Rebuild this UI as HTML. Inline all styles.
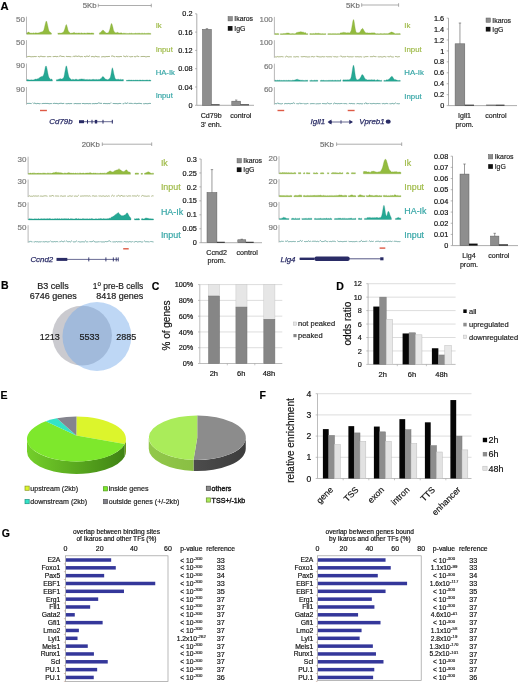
<!DOCTYPE html>
<html><head><meta charset="utf-8"><style>
html,body{margin:0;padding:0;background:#fff;}
body{width:520px;height:683px;overflow:hidden;}
svg{display:block;filter:blur(0.5px);font-family:"Liberation Sans", sans-serif;}
</style></head><body>
<svg width="520" height="683" viewBox="0 0 520 683" font-family="Liberation Sans, sans-serif">
<rect width="520" height="683" fill="#fff"/>
<text x="96.50" y="8.31" font-size="7.8" text-anchor="end" fill="#707070"  stroke="#707070" stroke-width="0.18">5Kb</text>
<line x1="98.30" y1="5.50" x2="151.30" y2="5.50" stroke="#8a8a8a" stroke-width="0.7" />
<line x1="98.30" y1="3.70" x2="98.30" y2="7.30" stroke="#8a8a8a" stroke-width="0.7" />
<line x1="151.30" y1="3.70" x2="151.30" y2="7.30" stroke="#8a8a8a" stroke-width="0.7" />
<line x1="26.50" y1="16.70" x2="26.50" y2="34.30" stroke="#9a9a9a" stroke-width="0.7" />
<text x="24.90" y="21.58" font-size="8" text-anchor="end" fill="#7a7a7a"  stroke="#7a7a7a" stroke-width="0.18">50</text>
<path d="M26.90,34.30 L26.90,32.90 L27.40,32.70 L27.90,32.13 L28.40,32.08 L28.90,32.05 L29.40,32.46 L29.90,32.92 L30.40,32.96 L30.90,33.23 L31.40,33.03 L31.90,33.22 L32.40,33.20 L32.90,33.04 L33.40,32.84 L33.90,33.19 L34.40,33.14 L34.90,32.94 L35.40,32.78 L35.90,32.96 L36.40,33.05 L36.90,32.76 L37.40,33.23 L37.90,32.74 L38.40,32.90 L38.90,32.84 L39.40,32.72 L39.90,32.48 L40.40,31.98 L40.90,32.17 L41.40,31.89 L41.90,31.75 L42.40,31.68 L42.90,31.24 L43.40,30.81 L43.90,29.63 L44.40,27.83 L44.90,25.46 L45.40,23.38 L45.90,21.70 L46.40,20.96 L46.90,21.99 L47.40,24.15 L47.90,26.39 L48.40,28.68 L48.90,30.55 L49.40,31.44 L49.90,32.09 L50.40,32.33 L50.90,32.71 L51.40,33.10 L51.40,34.30Z" fill="#93bb3f" stroke="#7ea336" stroke-width="0.3"/>
<path d="M57.90,34.30 L57.90,32.86 L58.40,33.29 L58.90,33.14 L59.40,32.97 L59.90,33.27 L60.40,33.11 L60.90,33.33 L61.40,33.01 L61.90,32.92 L62.40,32.79 L62.90,32.35 L63.40,32.19 L63.90,31.26 L64.40,30.12 L64.90,28.47 L65.40,26.70 L65.90,25.05 L66.40,24.55 L66.90,25.85 L67.40,27.60 L67.90,29.81 L68.40,30.97 L68.90,31.93 L69.40,32.29 L69.90,32.72 L70.40,33.20 L70.90,33.16 L71.40,33.02 L71.90,33.34 L72.40,32.96 L72.90,32.91 L73.40,32.72 L73.90,32.52 L74.40,32.39 L74.90,32.92 L75.40,33.06 L75.90,33.15 L76.40,32.91 L76.90,33.31 L77.40,33.13 L77.90,33.08 L78.40,32.91 L78.90,32.94 L79.40,32.92 L79.90,33.21 L80.40,33.14 L80.90,33.17 L81.40,32.91 L81.90,32.87 L82.40,33.27 L82.90,33.26 L83.40,33.23 L83.90,33.23 L84.40,33.11 L84.90,33.06 L85.40,33.22 L85.90,33.35 L86.40,33.14 L86.90,33.17 L87.40,33.07 L87.90,32.87 L88.40,33.00 L88.90,33.09 L89.40,33.04 L89.90,33.01 L90.40,33.32 L90.90,32.90 L91.40,32.96 L91.90,32.91 L92.40,32.95 L92.90,33.15 L93.40,33.15 L93.90,33.30 L93.90,34.30Z" fill="#93bb3f" stroke="#7ea336" stroke-width="0.3"/>
<path d="M99.40,34.30 L99.40,32.79 L99.90,32.90 L100.40,32.59 L100.90,32.04 L101.40,31.46 L101.90,30.74 L102.40,30.41 L102.90,30.25 L103.40,30.36 L103.90,30.86 L104.40,31.36 L104.90,32.13 L105.40,32.18 L105.90,32.63 L106.40,33.04 L106.90,33.07 L107.40,33.05 L107.90,32.85 L108.40,32.63 L108.90,31.68 L109.40,30.53 L109.90,29.04 L110.40,26.74 L110.90,24.72 L111.40,23.47 L111.90,23.83 L112.40,25.49 L112.90,27.32 L113.40,29.64 L113.90,31.21 L114.40,31.67 L114.90,32.39 L115.40,32.85 L115.90,32.66 L116.40,32.84 L116.90,32.50 L117.40,32.34 L117.90,32.49 L118.40,32.66 L118.90,32.96 L119.40,32.99 L119.90,33.16 L120.40,32.86 L120.90,32.98 L121.40,32.86 L121.90,33.09 L122.40,33.50 L122.90,33.24 L123.40,33.16 L123.90,33.22 L124.40,33.25 L124.90,33.24 L125.40,33.28 L125.90,33.50 L126.40,33.39 L126.90,33.47 L127.40,33.50 L127.90,33.50 L128.40,33.50 L128.90,33.50 L129.40,33.30 L129.90,33.17 L130.40,33.43 L130.90,33.18 L131.40,33.16 L131.90,33.17 L132.40,33.47 L132.90,33.50 L133.40,33.50 L133.90,33.50 L134.40,33.50 L134.90,33.34 L135.40,33.20 L135.90,33.23 L136.40,33.41 L136.90,33.32 L137.40,33.25 L137.90,33.50 L138.40,33.32 L138.90,33.20 L139.40,33.26 L139.90,33.27 L140.40,33.41 L140.90,33.50 L141.40,33.26 L141.90,33.48 L142.40,33.25 L142.90,33.16 L143.40,33.45 L143.90,33.45 L144.40,33.18 L144.90,33.29 L145.40,33.50 L145.90,33.50 L146.40,33.50 L146.90,33.20 L147.40,33.25 L147.90,33.50 L148.40,33.24 L148.90,33.16 L149.40,33.32 L149.90,33.47 L150.40,33.38 L150.90,33.50 L150.90,34.30Z" fill="#93bb3f" stroke="#7ea336" stroke-width="0.3"/>
<text x="155.70" y="28.27" font-size="7.7" fill="#9fbb48"  stroke="#9fbb48" stroke-width="0.18">Ik</text>
<line x1="26.50" y1="40.10" x2="26.50" y2="57.70" stroke="#9a9a9a" stroke-width="0.7" />
<text x="24.90" y="44.98" font-size="8" text-anchor="end" fill="#7a7a7a"  stroke="#7a7a7a" stroke-width="0.18">50</text>
<path d="M26.90,56.89 L27.90,56.58 L28.90,56.43 L29.90,56.46 L30.90,56.79 L31.90,56.75 L32.90,56.61 L33.90,56.69 L34.90,56.44 L35.90,56.67 L36.90,56.45 L37.90,56.44 L38.90,56.63 L39.90,56.89 L40.90,56.01 L41.90,56.50 L42.90,56.66 L43.90,56.62 L44.90,56.64 L45.90,56.51 L46.90,56.62 L47.90,56.76 L48.90,56.65 L49.90,56.52 L50.90,56.68 L51.90,56.65 L52.90,56.55 L53.90,56.63 L54.90,56.43 L55.90,56.46 L56.90,56.77 L57.90,56.43 L58.90,56.83 L59.90,55.88 L60.90,55.98 L61.90,56.57 L62.90,56.45 L63.90,56.54 L64.90,56.83 L65.90,56.42 L66.90,56.42 L67.90,56.66 L68.90,56.48 L69.90,56.68 L70.90,56.73 L71.90,56.74 L72.90,56.89 L73.90,55.88 L74.90,56.73 L75.90,55.84 L76.90,56.41 L77.90,56.41 L78.90,55.97 L79.90,56.51 L80.90,56.84 L81.90,56.44 L82.90,56.77 L83.90,56.44 L84.90,56.55 L85.90,56.87 L86.90,55.89 L87.90,56.43 L88.90,56.50 L89.90,55.67 L90.90,56.47 L91.90,56.73 L92.90,56.44 L93.90,56.84 L94.90,56.78 L95.90,56.02 L96.90,56.80 L97.90,56.75 L98.90,56.76 L99.90,56.81 L100.90,56.89 L101.90,56.89 L102.90,56.62 L103.90,56.66 L104.90,56.85 L105.90,56.68 L106.90,56.48 L107.90,56.65 L108.90,56.41 L109.90,56.48 L110.90,56.58 L111.90,55.93 L112.90,56.04 L113.90,56.53 L114.90,56.82 L115.90,56.48 L116.90,56.56 L117.90,56.78 L118.90,56.67 L119.90,56.68 L120.90,56.42 L121.90,56.63 L122.90,56.42 L123.90,55.92 L124.90,56.71 L125.90,56.65 L126.90,55.85 L127.90,56.77 L128.90,55.90 L129.90,56.89 L130.90,56.78 L131.90,56.64 L132.90,56.57 L133.90,56.46 L134.90,56.74 L135.90,56.83 L136.90,55.78 L137.90,56.48 L138.90,56.59 L139.90,56.49 L140.90,56.64 L141.90,56.48 L142.90,56.49 L143.90,56.45 L144.90,56.55 L145.90,56.88 L146.90,56.72 L147.90,56.48 L148.90,56.59 L149.90,56.56 L150.90,56.90" fill="none" stroke="#a0ab74" stroke-width="0.9" stroke-dasharray="10.0 1.1 8.3 1.3 4.5 1.3 6.0 0.7 6.1 1.3 5.6 1.3 11.8 1.1 7.1 1.1 9.5 1.4 8.9 1.2 4.6 0.7 6.0 1.3 6.4 1.2 4.1 0.7 6.2 1.3 9.5 1.3 6.3 1.1 7.7 1.1 4.9 1.5 5.6 1.6 11.5 0.6 7.7 1.4 11.7 1.0 6.1 0.8 11.6 0.8 8.7 0.7 8.2 1.6 5.1 1.4 8.1 1.5 9.6 0.8 11.2 1.1 4.2 0.6 7.9 1.1 6.4 0.7 6.8 0.9 10.7 0.6 10.0 1.4 5.0 1.5 9.7 1.5 6.3 1.0"/>
<text x="155.70" y="51.97" font-size="7.7" fill="#9fbb48"  stroke="#9fbb48" stroke-width="0.18">Input</text>
<line x1="26.50" y1="63.50" x2="26.50" y2="81.10" stroke="#9a9a9a" stroke-width="0.7" />
<text x="24.90" y="68.38" font-size="8" text-anchor="end" fill="#7a7a7a"  stroke="#7a7a7a" stroke-width="0.18">90</text>
<path d="M26.90,81.10 L26.90,79.85 L27.40,79.55 L27.90,79.76 L28.40,79.87 L28.90,79.84 L29.40,79.91 L29.90,80.03 L30.40,80.00 L30.90,79.63 L31.40,79.91 L31.90,79.58 L32.40,79.93 L32.90,79.92 L33.40,79.79 L33.90,79.96 L34.40,79.86 L34.90,79.07 L35.40,79.11 L35.90,79.14 L36.40,79.23 L36.90,79.01 L37.40,78.87 L37.90,78.79 L38.40,78.38 L38.90,78.39 L39.40,77.72 L39.90,77.52 L40.40,77.03 L40.90,76.74 L41.40,76.55 L41.90,76.63 L42.40,76.13 L42.90,76.22 L43.40,75.32 L43.90,74.02 L44.40,72.02 L44.90,69.21 L45.40,66.69 L45.90,65.97 L46.40,66.20 L46.90,68.17 L47.40,70.65 L47.90,73.41 L48.40,75.75 L48.90,77.32 L49.40,78.29 L49.90,78.56 L50.40,79.18 L50.90,79.42 L51.40,79.09 L51.90,79.05 L52.40,80.22 L52.40,81.10Z" fill="#25a894" stroke="#1d8f7e" stroke-width="0.3"/>
<path d="M56.40,81.10 L56.40,79.68 L56.90,79.65 L57.40,79.63 L57.90,79.38 L58.40,79.37 L58.90,79.16 L59.40,79.00 L59.90,78.70 L60.40,78.63 L60.90,78.84 L61.40,79.10 L61.90,78.98 L62.40,78.75 L62.90,78.54 L63.40,77.92 L63.90,76.89 L64.40,74.85 L64.90,71.78 L65.40,69.17 L65.90,66.60 L66.40,65.82 L66.90,66.98 L67.40,69.68 L67.90,72.40 L68.40,74.87 L68.90,76.63 L69.40,77.80 L69.90,78.26 L70.40,78.77 L70.90,79.08 L71.40,79.73 L71.90,79.73 L72.40,79.39 L72.90,79.30 L73.40,79.51 L73.90,79.46 L74.40,79.75 L74.90,79.55 L75.40,79.29 L75.90,79.34 L76.40,79.32 L76.90,79.26 L77.40,79.63 L77.90,79.70 L78.40,79.67 L78.90,79.49 L79.40,79.35 L79.90,79.13 L80.40,79.14 L80.90,79.07 L81.40,78.90 L81.90,78.94 L82.40,78.97 L82.90,79.33 L83.40,79.07 L83.90,79.44 L84.40,79.20 L84.90,79.42 L85.40,79.60 L85.90,79.69 L86.40,79.62 L86.90,79.43 L87.40,79.40 L87.90,79.69 L88.40,79.71 L88.90,79.49 L89.40,79.46 L89.90,79.56 L90.40,79.64 L90.90,79.45 L91.40,79.74 L91.90,79.60 L92.40,79.52 L92.90,79.27 L93.40,79.43 L93.90,79.31 L94.40,79.51 L94.90,79.63 L95.40,79.63 L95.90,79.27 L96.40,79.40 L96.90,79.60 L97.40,79.74 L97.90,79.50 L98.40,79.41 L98.90,79.52 L99.40,79.55 L99.90,79.23 L100.40,78.85 L100.90,78.76 L101.40,78.23 L101.90,77.38 L102.40,76.76 L102.90,76.41 L103.40,76.87 L103.90,77.15 L104.40,77.88 L104.90,78.62 L105.40,79.21 L105.90,79.08 L106.40,79.53 L106.90,79.32 L107.40,79.63 L107.90,79.64 L108.40,79.36 L108.90,79.31 L109.40,78.60 L109.90,78.16 L110.40,77.03 L110.90,74.86 L111.40,71.89 L111.90,69.08 L112.40,67.68 L112.90,69.12 L113.40,71.26 L113.90,73.99 L114.40,75.86 L114.90,77.82 L115.40,78.80 L115.90,79.33 L116.40,79.52 L116.90,79.29 L117.40,79.31 L117.90,79.38 L118.40,79.25 L118.90,79.28 L119.40,79.59 L119.90,79.66 L120.40,79.28 L120.90,79.38 L121.40,79.73 L121.90,79.42 L122.40,79.56 L122.90,79.56 L123.40,79.58 L123.40,81.10Z" fill="#25a894" stroke="#1d8f7e" stroke-width="0.3"/>
<path d="M126.40,81.10 L126.40,80.30 L126.90,80.30 L127.40,80.30 L127.90,80.27 L128.40,79.97 L128.90,80.30 L129.40,79.97 L129.90,80.30 L130.40,80.27 L130.90,80.04 L131.40,80.04 L131.90,80.23 L132.40,80.30 L132.90,80.21 L133.40,80.26 L133.90,79.99 L134.40,80.30 L134.90,80.27 L135.40,80.00 L135.90,80.30 L136.40,80.24 L136.90,80.04 L137.40,80.07 L137.90,80.30 L138.40,80.30 L138.90,80.30 L139.40,79.99 L139.90,80.30 L140.40,80.08 L140.90,80.00 L141.40,80.28 L141.90,80.30 L142.40,79.97 L142.90,80.14 L143.40,80.30 L143.90,80.09 L144.40,80.29 L144.90,80.30 L145.40,80.30 L145.90,80.07 L146.40,79.99 L146.90,80.13 L147.40,79.98 L147.90,80.30 L148.40,80.30 L148.90,80.21 L149.40,79.97 L149.90,79.97 L150.40,80.26 L150.90,80.30 L150.90,81.10Z" fill="#25a894" stroke="#1d8f7e" stroke-width="0.3"/>
<text x="155.70" y="74.57" font-size="7.7" fill="#36a6a6"  stroke="#36a6a6" stroke-width="0.18">HA-Ik</text>
<line x1="26.50" y1="87.00" x2="26.50" y2="104.60" stroke="#9a9a9a" stroke-width="0.7" />
<text x="24.90" y="91.88" font-size="8" text-anchor="end" fill="#7a7a7a"  stroke="#7a7a7a" stroke-width="0.18">90</text>
<path d="M26.90,103.59 L27.90,103.34 L28.90,103.40 L29.90,103.39 L30.90,103.50 L31.90,103.64 L32.90,102.61 L33.90,103.70 L34.90,102.88 L35.90,103.78 L36.90,103.64 L37.90,103.36 L38.90,103.67 L39.90,103.75 L40.90,103.45 L41.90,103.68 L42.90,103.49 L43.90,103.43 L44.90,103.47 L45.90,103.38 L46.90,103.52 L47.90,103.43 L48.90,103.68 L49.90,103.72 L50.90,103.51 L51.90,103.60 L52.90,103.55 L53.90,103.40 L54.90,103.30 L55.90,103.56 L56.90,103.38 L57.90,103.78 L58.90,103.74 L59.90,103.31 L60.90,103.33 L61.90,103.37 L62.90,103.67 L63.90,103.33 L64.90,103.50 L65.90,103.69 L66.90,103.73 L67.90,103.67 L68.90,103.47 L69.90,103.79 L70.90,103.46 L71.90,103.64 L72.90,103.40 L73.90,103.77 L74.90,103.60 L75.90,103.48 L76.90,103.72 L77.90,103.60 L78.90,103.65 L79.90,103.64 L80.90,103.62 L81.90,103.37 L82.90,103.62 L83.90,103.44 L84.90,103.80 L85.90,103.59 L86.90,103.60 L87.90,103.57 L88.90,103.79 L89.90,103.48 L90.90,103.76 L91.90,103.61 L92.90,103.73 L93.90,103.54 L94.90,103.75 L95.90,103.40 L96.90,103.70 L97.90,103.33 L98.90,102.76 L99.90,103.34 L100.90,103.35 L101.90,103.39 L102.90,103.41 L103.90,103.60 L104.90,103.39 L105.90,103.69 L106.90,103.54 L107.90,103.74 L108.90,103.44 L109.90,103.78 L110.90,102.62 L111.90,103.38 L112.90,103.50 L113.90,103.49 L114.90,103.59 L115.90,103.59 L116.90,103.58 L117.90,103.79 L118.90,103.56 L119.90,103.42 L120.90,103.57 L121.90,103.56 L122.90,103.74 L123.90,103.75 L124.90,102.74 L125.90,103.48 L126.90,103.43 L127.90,102.74 L128.90,103.55 L129.90,103.32 L130.90,103.37 L131.90,103.43 L132.90,103.70 L133.90,103.55 L134.90,103.34 L135.90,103.41 L136.90,103.77 L137.90,103.42 L138.90,103.35 L139.90,103.39 L140.90,103.55 L141.90,103.70 L142.90,103.55 L143.90,103.78 L144.90,103.72 L145.90,103.46 L146.90,103.72 L147.90,103.74 L148.90,103.48 L149.90,103.36 L150.90,103.51" fill="none" stroke="#64a29c" stroke-width="0.9" stroke-dasharray="4.8 1.6 9.0 1.0 10.4 0.9 11.9 1.2 6.9 1.4 7.5 0.8 9.9 0.6 10.6 0.9 9.1 1.6 8.7 1.3 6.5 0.6 4.3 0.7 8.9 1.0 8.1 1.5 5.1 0.8 9.2 0.6 4.0 1.0 4.9 1.0 5.8 1.2 8.7 0.8 9.0 1.1 5.1 1.5 5.9 0.7 4.8 1.2 11.0 1.4 7.2 0.9 4.1 1.2 8.5 1.0 9.2 1.0 11.5 1.3 6.0 1.5 4.4 1.1 7.2 0.8 4.5 1.4 4.1 1.2 11.5 0.7 5.6 1.2 8.1 1.2 10.5 0.8 6.5 0.9"/>
<text x="155.70" y="97.97" font-size="7.7" fill="#36a6a6"  stroke="#36a6a6" stroke-width="0.18">Input</text>
<line x1="40.00" y1="110.50" x2="46.90" y2="110.50" stroke="#de5a45" stroke-width="1.4" />
<text x="49.30" y="124.24" font-size="7.9" fill="#2a2c66" font-style="italic" stroke="#2a2c66" stroke-width="0.25">Cd79b</text>
<line x1="79.00" y1="121.70" x2="112.70" y2="121.70" stroke="#2a2c66" stroke-width="0.7" />
<rect x="79.00" y="120.20" width="5.00" height="3.00" fill="#2a2c66" />
<rect x="87.00" y="119.80" width="1.00" height="3.80" fill="#2a2c66" />
<rect x="91.50" y="119.80" width="1.00" height="3.80" fill="#2a2c66" />
<rect x="102.50" y="119.80" width="1.00" height="3.80" fill="#2a2c66" />
<rect x="111.80" y="119.80" width="1.00" height="3.80" fill="#2a2c66" />
<rect x="94.80" y="119.90" width="2.40" height="3.60" fill="#2a2c66" />
<text x="359.90" y="7.81" font-size="7.8" text-anchor="end" fill="#707070"  stroke="#707070" stroke-width="0.18">5Kb</text>
<line x1="361.70" y1="5.00" x2="398.60" y2="5.00" stroke="#8a8a8a" stroke-width="0.7" />
<line x1="361.70" y1="3.20" x2="361.70" y2="6.80" stroke="#8a8a8a" stroke-width="0.7" />
<line x1="398.60" y1="3.20" x2="398.60" y2="6.80" stroke="#8a8a8a" stroke-width="0.7" />
<line x1="274.40" y1="16.90" x2="274.40" y2="34.50" stroke="#9a9a9a" stroke-width="0.7" />
<text x="272.80" y="21.78" font-size="8" text-anchor="end" fill="#7a7a7a"  stroke="#7a7a7a" stroke-width="0.18">100</text>
<path d="M274.80,34.50 L274.80,33.70 L275.30,33.49 L275.80,33.54 L276.30,33.56 L276.80,33.70 L277.30,33.51 L277.80,33.55 L278.30,33.66 L278.80,33.55 L278.80,34.50Z" fill="#93bb3f" stroke="#7ea336" stroke-width="0.3"/>
<path d="M280.30,34.50 L280.30,33.67 L280.80,33.70 L281.30,33.70 L281.80,33.70 L282.30,33.70 L282.80,33.70 L283.30,33.55 L283.80,33.57 L284.30,33.51 L284.80,33.51 L285.30,33.57 L285.80,33.32 L286.30,33.23 L286.80,32.95 L287.30,32.90 L287.80,33.04 L288.30,33.03 L288.80,33.05 L289.30,33.48 L289.80,33.35 L290.30,33.70 L290.80,33.70 L291.30,33.70 L291.80,33.55 L292.30,33.47 L292.80,33.55 L293.30,33.70 L293.80,33.50 L294.30,33.70 L294.80,33.70 L295.30,33.49 L295.80,33.60 L296.30,32.68 L296.80,32.59 L297.30,32.35 L297.80,32.44 L298.30,32.17 L298.80,32.10 L299.30,31.91 L299.80,31.95 L300.30,31.70 L300.80,31.63 L301.30,31.76 L301.80,31.93 L302.30,31.90 L302.80,32.25 L303.30,32.04 L303.80,32.48 L304.30,32.64 L304.80,32.72 L305.30,32.50 L305.80,32.83 L306.30,33.70 L306.80,33.70 L307.30,33.70 L307.80,33.57 L307.80,34.50Z" fill="#93bb3f" stroke="#7ea336" stroke-width="0.3"/>
<path d="M309.80,34.50 L309.80,33.60 L310.30,33.57 L310.80,33.56 L311.30,33.70 L311.80,33.61 L312.30,33.70 L312.80,33.52 L313.30,33.52 L313.80,33.49 L314.30,33.70 L314.80,33.39 L315.30,33.29 L315.80,33.19 L316.30,33.44 L316.80,33.31 L317.30,33.36 L317.80,33.49 L318.30,33.25 L318.80,33.35 L319.30,33.50 L319.80,33.50 L320.30,33.60 L320.80,33.70 L321.30,33.70 L321.80,33.70 L322.30,33.55 L322.80,33.70 L323.30,33.70 L323.80,33.68 L324.30,33.70 L324.80,33.70 L325.30,33.70 L325.80,33.56 L325.80,34.50Z" fill="#93bb3f" stroke="#7ea336" stroke-width="0.3"/>
<path d="M327.80,34.50 L327.80,33.70 L328.30,33.70 L328.80,33.46 L329.30,33.65 L329.80,33.51 L330.30,33.60 L330.80,33.70 L331.30,33.68 L331.80,33.68 L332.30,33.54 L332.80,33.70 L333.30,33.57 L333.80,33.63 L334.30,33.70 L334.80,33.51 L335.30,33.70 L335.80,33.52 L336.30,33.70 L336.80,33.70 L337.30,33.70 L337.80,33.55 L338.30,33.46 L338.80,33.70 L339.30,33.65 L339.80,33.65 L340.30,32.78 L340.80,33.03 L341.30,32.86 L341.80,32.83 L342.30,32.54 L342.80,32.66 L343.30,32.28 L343.80,32.43 L344.30,32.48 L344.80,32.40 L345.30,32.59 L345.80,32.85 L346.30,32.73 L346.80,33.04 L347.30,32.78 L347.80,32.82 L348.30,32.78 L348.80,32.83 L349.30,32.90 L349.80,32.74 L350.30,32.37 L350.80,31.32 L351.30,30.03 L351.80,27.21 L352.30,24.43 L352.80,21.41 L353.30,19.66 L353.80,19.71 L354.30,22.39 L354.80,25.97 L355.30,28.94 L355.80,31.30 L356.30,32.28 L356.80,32.69 L357.30,32.74 L357.80,32.77 L358.30,32.77 L358.80,32.78 L359.30,32.56 L359.80,32.21 L360.30,31.27 L360.80,30.46 L361.30,29.48 L361.80,28.92 L362.30,28.44 L362.80,28.47 L363.30,29.19 L363.80,30.29 L364.30,31.09 L364.80,31.68 L365.30,32.46 L365.80,32.77 L366.30,32.88 L366.80,32.78 L367.30,32.75 L367.80,33.04 L368.30,33.04 L368.80,33.00 L369.30,32.97 L369.80,32.89 L370.30,33.04 L370.80,32.97 L371.30,33.02 L371.80,32.71 L372.30,32.81 L372.80,33.06 L373.30,32.72 L373.80,33.06 L374.30,32.95 L374.80,32.71 L375.30,33.53 L375.80,33.56 L376.30,33.68 L376.80,33.70 L377.30,33.59 L377.80,33.70 L378.30,33.70 L378.80,33.69 L379.30,33.70 L379.80,33.69 L380.30,33.53 L380.80,33.57 L381.30,33.65 L381.80,33.60 L382.30,33.66 L382.80,33.70 L383.30,33.61 L383.80,33.69 L384.30,33.55 L384.80,33.49 L385.30,33.68 L385.80,33.62 L386.30,33.55 L386.80,33.68 L387.30,33.70 L387.80,33.56 L388.30,33.47 L388.80,33.29 L389.30,33.07 L389.80,32.74 L390.30,32.52 L390.80,32.24 L391.30,32.02 L391.80,31.89 L392.30,32.07 L392.80,32.58 L393.30,32.74 L393.80,32.87 L394.30,33.17 L394.80,33.44 L395.30,33.70 L395.80,33.68 L396.30,33.67 L396.80,33.60 L397.30,33.69 L397.80,33.58 L398.30,33.48 L398.80,33.70 L399.30,33.59 L399.80,33.54 L400.30,33.69 L400.30,34.50Z" fill="#93bb3f" stroke="#7ea336" stroke-width="0.3"/>
<text x="404.30" y="28.31" font-size="7.8" fill="#9fbb48"  stroke="#9fbb48" stroke-width="0.18">Ik</text>
<line x1="274.40" y1="40.20" x2="274.40" y2="57.80" stroke="#9a9a9a" stroke-width="0.7" />
<text x="272.80" y="45.08" font-size="8" text-anchor="end" fill="#7a7a7a"  stroke="#7a7a7a" stroke-width="0.18">100</text>
<path d="M274.80,56.76 L275.80,56.98 L276.80,56.92 L277.80,56.53 L278.80,56.95 L279.80,56.73 L280.80,56.74 L281.80,56.59 L282.80,56.79 L283.80,56.89 L284.80,56.80 L285.80,56.94 L286.80,56.02 L287.80,56.86 L288.80,56.99 L289.80,56.79 L290.80,56.82 L291.80,56.89 L292.80,56.53 L293.80,56.89 L294.80,56.80 L295.80,56.94 L296.80,56.60 L297.80,56.77 L298.80,56.89 L299.80,56.82 L300.80,56.59 L301.80,56.77 L302.80,56.73 L303.80,56.58 L304.80,56.57 L305.80,56.81 L306.80,56.79 L307.80,57.00 L308.80,56.86 L309.80,56.85 L310.80,56.79 L311.80,56.67 L312.80,56.54 L313.80,56.97 L314.80,56.55 L315.80,56.93 L316.80,55.88 L317.80,56.99 L318.80,56.67 L319.80,56.95 L320.80,56.88 L321.80,56.83 L322.80,56.55 L323.80,56.92 L324.80,56.70 L325.80,56.67 L326.80,56.61 L327.80,56.90 L328.80,56.73 L329.80,56.78 L330.80,56.72 L331.80,56.88 L332.80,55.95 L333.80,56.77 L334.80,56.75 L335.80,56.73 L336.80,57.00 L337.80,56.77 L338.80,56.67 L339.80,56.81 L340.80,55.72 L341.80,56.68 L342.80,56.99 L343.80,56.66 L344.80,56.83 L345.80,56.74 L346.80,55.75 L347.80,56.64 L348.80,56.83 L349.80,56.82 L350.80,56.74 L351.80,56.89 L352.80,56.79 L353.80,56.59 L354.80,56.59 L355.80,56.75 L356.80,56.75 L357.80,56.67 L358.80,56.83 L359.80,56.85 L360.80,56.68 L361.80,56.98 L362.80,56.56 L363.80,56.98 L364.80,57.00 L365.80,56.54 L366.80,56.67 L367.80,56.55 L368.80,56.69 L369.80,56.65 L370.80,56.66 L371.80,56.67 L372.80,56.62 L373.80,56.11 L374.80,56.61 L375.80,56.67 L376.80,56.59 L377.80,56.72 L378.80,56.85 L379.80,56.84 L380.80,56.68 L381.80,56.97 L382.80,56.98 L383.80,56.59 L384.80,56.54 L385.80,56.99 L386.80,56.70 L387.80,56.51 L388.80,56.79 L389.80,56.68 L390.80,56.12 L391.80,57.00 L392.80,56.94 L393.80,56.96 L394.80,56.14 L395.80,56.64 L396.80,56.63 L397.80,56.97 L398.80,56.64 L399.80,56.64" fill="none" stroke="#a0ab74" stroke-width="0.9" stroke-dasharray="9.0 1.3 7.7 1.5 6.0 1.6 9.7 0.6 4.1 1.3 10.5 0.7 6.5 1.3 5.3 1.5 7.9 0.7 6.9 1.2 7.5 1.3 5.2 1.4 6.9 1.2 9.0 1.0 7.1 1.4 11.6 1.4 8.5 0.9 4.5 1.6 9.6 1.4 6.7 1.2 11.8 1.4 8.8 0.9 7.4 1.5 7.0 1.3 8.8 1.5 10.5 0.9 4.0 0.9 7.4 1.2 10.5 1.5 4.3 1.4 10.5 1.5 8.6 0.9 10.8 1.4 9.5 1.5 6.8 0.7 8.4 1.4 5.6 1.4 11.5 0.8 8.9 1.3 7.7 0.8"/>
<text x="404.30" y="52.21" font-size="7.8" fill="#9fbb48"  stroke="#9fbb48" stroke-width="0.18">Input</text>
<line x1="274.40" y1="63.70" x2="274.40" y2="81.30" stroke="#9a9a9a" stroke-width="0.7" />
<text x="272.80" y="68.58" font-size="8" text-anchor="end" fill="#7a7a7a"  stroke="#7a7a7a" stroke-width="0.18">60</text>
<path d="M274.80,81.30 L274.80,80.50 L275.30,80.30 L275.80,80.28 L276.30,80.42 L276.80,80.50 L277.30,80.28 L277.80,80.29 L278.30,80.50 L278.80,80.37 L279.30,80.24 L279.80,80.25 L280.30,80.39 L280.80,80.41 L281.30,80.36 L281.80,80.50 L282.30,80.50 L282.80,80.50 L283.30,80.32 L283.80,80.45 L284.30,80.37 L284.80,80.44 L285.30,80.39 L285.80,80.50 L286.30,80.50 L286.80,80.20 L287.30,80.45 L287.80,80.50 L288.30,80.35 L288.80,80.29 L289.30,80.50 L289.80,80.36 L290.30,80.46 L290.80,80.39 L291.30,80.50 L291.80,80.50 L292.30,80.20 L292.80,80.25 L293.30,80.36 L293.80,80.22 L294.30,80.23 L294.80,79.90 L295.30,79.92 L295.80,79.58 L296.30,79.52 L296.80,79.37 L297.30,79.17 L297.80,79.48 L298.30,79.71 L298.80,79.78 L299.30,79.92 L299.80,80.08 L300.30,80.22 L300.80,80.14 L301.30,80.12 L301.80,80.39 L302.30,80.22 L302.80,80.24 L303.30,80.50 L303.80,80.36 L304.30,80.44 L304.80,80.50 L305.30,80.22 L305.80,80.50 L306.30,80.37 L306.80,80.34 L307.30,80.22 L307.80,80.33 L307.80,81.30Z" fill="#25a894" stroke="#1d8f7e" stroke-width="0.3"/>
<path d="M309.80,81.30 L309.80,80.44 L310.30,80.42 L310.80,80.50 L311.30,80.21 L311.80,80.20 L312.30,80.50 L312.80,80.50 L313.30,80.50 L313.80,80.46 L314.30,80.24 L314.80,80.24 L315.30,80.27 L315.80,80.50 L316.30,80.29 L316.80,80.32 L317.30,80.34 L317.80,80.21 L317.80,81.30Z" fill="#25a894" stroke="#1d8f7e" stroke-width="0.3"/>
<path d="M320.30,81.30 L320.30,80.50 L320.80,80.50 L321.30,80.30 L321.80,80.22 L322.30,80.33 L322.80,80.48 L323.30,80.36 L323.80,80.30 L324.30,80.50 L324.80,80.47 L325.30,80.50 L325.80,80.50 L326.30,80.41 L326.80,80.50 L327.30,80.50 L327.80,80.50 L328.30,80.33 L328.80,80.50 L329.30,80.31 L329.80,80.50 L330.30,80.50 L330.80,80.23 L331.30,80.50 L331.80,80.23 L332.30,80.25 L332.80,80.24 L333.30,80.50 L333.80,80.42 L334.30,80.50 L334.80,80.23 L335.30,80.26 L335.80,80.35 L336.30,80.42 L336.80,80.46 L337.30,80.27 L337.80,80.41 L338.30,80.35 L338.80,80.50 L339.30,80.50 L339.80,80.50 L340.30,79.71 L340.80,79.78 L340.80,81.30Z" fill="#25a894" stroke="#1d8f7e" stroke-width="0.3"/>
<path d="M342.80,81.30 L342.80,79.94 L343.30,79.65 L343.80,79.89 L344.30,79.84 L344.80,79.94 L345.30,79.89 L345.80,79.66 L346.30,79.87 L346.80,79.93 L347.30,79.80 L347.80,79.87 L348.30,79.64 L348.80,79.94 L349.30,79.54 L349.80,79.76 L350.30,79.01 L350.80,78.17 L351.30,76.59 L351.80,73.74 L352.30,70.40 L352.80,67.17 L353.30,65.30 L353.80,65.57 L354.30,68.08 L354.80,71.95 L355.30,75.46 L355.80,78.09 L356.30,79.19 L356.80,79.42 L357.30,79.90 L357.80,79.63 L358.30,79.72 L358.80,79.25 L359.30,79.28 L359.80,78.39 L360.30,77.77 L360.80,76.88 L361.30,75.95 L361.80,74.84 L362.30,74.60 L362.80,74.89 L363.30,75.43 L363.80,76.17 L364.30,77.45 L364.80,78.19 L365.30,79.03 L365.80,79.45 L366.30,79.47 L366.80,79.62 L367.30,79.88 L367.80,79.96 L368.30,79.96 L368.80,79.76 L369.30,79.80 L369.80,79.89 L370.30,79.92 L370.80,79.76 L371.30,79.72 L371.80,79.68 L372.30,79.77 L372.80,79.92 L373.30,79.97 L373.80,79.71 L374.30,79.84 L374.80,79.71 L375.30,80.50 L375.80,80.16 L376.30,80.23 L376.80,79.90 L377.30,79.76 L377.80,79.83 L378.30,80.16 L378.80,79.93 L379.30,80.22 L379.80,80.18 L380.30,80.49 L380.80,80.50 L381.30,80.27 L381.80,80.45 L381.80,81.30Z" fill="#25a894" stroke="#1d8f7e" stroke-width="0.3"/>
<path d="M383.80,81.30 L383.80,80.50 L384.30,80.45 L384.80,80.36 L385.30,80.50 L385.80,80.39 L386.30,79.82 L386.80,79.79 L387.30,79.92 L387.80,79.64 L388.30,79.48 L388.80,79.24 L389.30,79.07 L389.80,78.34 L390.30,77.76 L390.80,76.92 L391.30,76.71 L391.80,76.26 L392.30,76.51 L392.80,77.29 L393.30,78.00 L393.80,78.66 L394.30,79.16 L394.80,79.68 L395.30,79.48 L395.80,79.86 L396.30,79.91 L396.80,79.95 L397.30,80.50 L397.80,80.27 L398.30,80.50 L398.80,80.50 L399.30,80.32 L399.80,80.50 L400.30,80.50 L400.30,81.30Z" fill="#25a894" stroke="#1d8f7e" stroke-width="0.3"/>
<text x="404.30" y="75.41" font-size="7.8" fill="#36a6a6"  stroke="#36a6a6" stroke-width="0.18">HA-Ik</text>
<line x1="274.40" y1="87.10" x2="274.40" y2="104.70" stroke="#9a9a9a" stroke-width="0.7" />
<text x="272.80" y="91.98" font-size="8" text-anchor="end" fill="#7a7a7a"  stroke="#7a7a7a" stroke-width="0.18">60</text>
<path d="M274.80,103.60 L275.80,103.64 L276.80,103.85 L277.80,102.74 L278.80,103.84 L279.80,103.65 L280.80,103.84 L281.80,103.83 L282.80,103.47 L283.80,103.61 L284.80,103.82 L285.80,103.43 L286.80,103.69 L287.80,103.64 L288.80,103.43 L289.80,103.73 L290.80,103.73 L291.80,103.41 L292.80,103.44 L293.80,102.68 L294.80,103.64 L295.80,103.43 L296.80,103.69 L297.80,103.72 L298.80,103.87 L299.80,102.85 L300.80,103.83 L301.80,103.51 L302.80,103.58 L303.80,103.46 L304.80,103.88 L305.80,103.77 L306.80,103.76 L307.80,103.44 L308.80,103.77 L309.80,103.68 L310.80,103.76 L311.80,103.58 L312.80,103.60 L313.80,103.64 L314.80,103.67 L315.80,103.83 L316.80,103.83 L317.80,103.70 L318.80,103.78 L319.80,103.63 L320.80,103.60 L321.80,103.57 L322.80,103.54 L323.80,103.63 L324.80,103.67 L325.80,103.78 L326.80,103.64 L327.80,102.81 L328.80,103.72 L329.80,103.78 L330.80,103.65 L331.80,103.41 L332.80,103.51 L333.80,103.87 L334.80,102.88 L335.80,103.71 L336.80,103.53 L337.80,103.79 L338.80,103.53 L339.80,103.73 L340.80,103.56 L341.80,103.48 L342.80,103.64 L343.80,103.53 L344.80,103.66 L345.80,103.55 L346.80,103.84 L347.80,103.90 L348.80,103.61 L349.80,103.42 L350.80,103.69 L351.80,103.46 L352.80,103.71 L353.80,103.67 L354.80,103.75 L355.80,103.62 L356.80,103.74 L357.80,103.48 L358.80,103.68 L359.80,103.75 L360.80,103.61 L361.80,103.86 L362.80,103.74 L363.80,103.48 L364.80,103.80 L365.80,102.64 L366.80,103.88 L367.80,103.65 L368.80,103.51 L369.80,103.40 L370.80,103.64 L371.80,103.71 L372.80,103.60 L373.80,103.43 L374.80,103.64 L375.80,103.71 L376.80,103.62 L377.80,103.46 L378.80,103.66 L379.80,103.59 L380.80,103.73 L381.80,103.49 L382.80,103.74 L383.80,103.49 L384.80,103.84 L385.80,103.56 L386.80,103.40 L387.80,103.69 L388.80,103.76 L389.80,103.65 L390.80,103.81 L391.80,103.60 L392.80,103.40 L393.80,103.88 L394.80,103.51 L395.80,102.75 L396.80,103.75 L397.80,103.61 L398.80,103.80 L399.80,103.62" fill="none" stroke="#64a29c" stroke-width="0.9" stroke-dasharray="9.2 1.1 12.0 1.2 7.3 0.7 5.3 1.4 4.9 0.7 5.4 1.1 10.6 1.2 10.5 0.7 4.1 1.4 6.6 1.3 6.8 0.8 6.1 0.7 11.2 1.2 6.8 1.0 7.1 0.7 11.1 1.2 11.7 1.0 9.0 0.8 4.4 1.5 10.8 0.9 11.2 1.4 6.4 1.2 11.7 1.1 11.6 0.8 7.1 1.3 5.8 0.9 11.0 1.1 10.3 0.8 5.4 1.0 5.5 1.6 6.3 1.2 4.9 1.1 7.1 1.0 4.5 0.7 10.6 1.0 6.0 0.8 6.3 0.8 4.3 1.3 6.7 0.8 9.6 0.7"/>
<text x="404.30" y="98.71" font-size="7.8" fill="#36a6a6"  stroke="#36a6a6" stroke-width="0.18">Input</text>
<line x1="277.50" y1="110.50" x2="284.20" y2="110.50" stroke="#de5a45" stroke-width="1.4" />
<line x1="347.70" y1="110.50" x2="354.60" y2="110.50" stroke="#de5a45" stroke-width="1.4" />
<text x="310.60" y="124.24" font-size="7.9" fill="#2a2c66" font-style="italic" stroke="#2a2c66" stroke-width="0.25">Igll1</text>
<line x1="329.00" y1="122.00" x2="352.00" y2="122.00" stroke="#2a2c66" stroke-width="0.7" />
<path d="M327.6,122 L331.5,119.6 L331.5,124.4 Z" fill="#2a2c66"/>
<circle cx="330.2" cy="122" r="1.6" fill="#2a2c66"/>
<path d="M353,122 L349.3,119.7 L349.3,124.3 Z" fill="#2a2c66"/>
<rect x="340.60" y="120.20" width="0.80" height="3.60" fill="#2a2c66" />
<text x="359.20" y="124.24" font-size="7.9" fill="#2a2c66" font-style="italic" stroke="#2a2c66" stroke-width="0.25">Vpreb1</text>
<ellipse cx="388.2" cy="121.7" rx="2.5" ry="2.1" fill="#2a2c66"/>
<text x="99.90" y="147.01" font-size="7.8" text-anchor="end" fill="#707070"  stroke="#707070" stroke-width="0.18">20Kb</text>
<line x1="102.30" y1="144.20" x2="151.70" y2="144.20" stroke="#8a8a8a" stroke-width="0.7" />
<line x1="102.30" y1="142.40" x2="102.30" y2="146.00" stroke="#8a8a8a" stroke-width="0.7" />
<line x1="151.70" y1="142.40" x2="151.70" y2="146.00" stroke="#8a8a8a" stroke-width="0.7" />
<line x1="28.10" y1="156.70" x2="28.10" y2="174.30" stroke="#9a9a9a" stroke-width="0.7" />
<text x="26.50" y="161.58" font-size="8" text-anchor="end" fill="#7a7a7a"  stroke="#7a7a7a" stroke-width="0.18">30</text>
<path d="M28.50,174.30 L28.50,173.34 L29.00,173.00 L29.50,173.42 L30.00,173.23 L30.50,173.00 L31.00,173.02 L31.50,173.40 L32.00,173.29 L32.50,173.07 L33.00,173.27 L33.50,172.92 L34.00,173.38 L34.50,172.93 L35.00,173.20 L35.50,173.36 L36.00,173.23 L36.50,173.42 L37.00,173.08 L37.50,173.34 L38.00,172.96 L38.50,173.15 L39.00,173.28 L39.50,173.35 L40.00,173.14 L40.50,173.37 L41.00,172.98 L41.50,173.43 L42.00,173.19 L42.50,173.17 L43.00,173.34 L43.50,173.04 L44.00,173.27 L44.50,173.11 L45.00,173.16 L45.50,173.31 L46.00,173.27 L46.50,173.45 L47.00,173.39 L47.50,172.99 L48.00,173.31 L48.50,173.10 L49.00,173.43 L49.50,173.16 L50.00,173.28 L50.50,173.20 L51.00,173.32 L51.50,173.46 L52.00,173.01 L52.50,173.02 L53.00,173.03 L53.50,172.62 L54.00,172.82 L54.50,172.69 L55.00,172.32 L55.50,172.34 L56.00,172.21 L56.50,172.15 L57.00,172.52 L57.50,172.50 L58.00,172.72 L58.50,172.39 L59.00,172.47 L59.50,172.72 L60.00,172.74 L60.50,172.65 L61.00,172.69 L61.50,173.01 L62.00,172.69 L62.50,173.29 L63.00,173.12 L63.50,173.39 L64.00,173.43 L64.50,172.95 L65.00,173.06 L65.50,173.07 L66.00,173.39 L66.50,173.28 L67.00,173.09 L67.50,172.94 L68.00,172.75 L68.50,172.57 L69.00,172.91 L69.50,172.87 L70.00,172.80 L70.50,173.19 L71.00,172.91 L71.50,173.16 L72.00,173.07 L72.50,173.35 L73.00,173.24 L73.50,173.09 L74.00,173.29 L74.50,173.50 L75.00,173.00 L75.50,173.03 L76.00,173.33 L76.50,173.47 L77.00,172.99 L77.50,173.14 L78.00,173.47 L78.50,173.35 L79.00,173.43 L79.50,173.03 L80.00,173.37 L80.50,172.95 L81.00,173.05 L81.50,173.45 L82.00,173.08 L82.50,173.26 L83.00,173.05 L83.50,173.00 L84.00,173.33 L84.50,173.45 L85.00,172.93 L85.50,173.25 L86.00,172.94 L86.50,173.09 L87.00,173.06 L87.50,172.95 L88.00,173.01 L88.50,173.05 L89.00,173.22 L89.50,172.76 L90.00,172.84 L90.50,172.87 L91.00,172.69 L91.50,173.24 L92.00,172.93 L92.50,173.42 L93.00,173.08 L93.50,173.02 L94.00,173.34 L94.50,173.17 L95.00,172.92 L95.50,173.12 L96.00,173.17 L96.50,173.35 L97.00,173.46 L97.50,173.29 L98.00,173.25 L98.50,173.38 L99.00,173.31 L99.50,173.42 L100.00,173.08 L100.50,173.10 L101.00,173.36 L101.50,173.35 L102.00,173.19 L102.50,173.23 L103.00,172.94 L103.50,173.29 L104.00,173.32 L104.50,172.97 L105.00,173.41 L105.50,173.16 L106.00,173.30 L106.50,173.01 L107.00,173.17 L107.50,172.04 L108.00,172.28 L108.50,171.75 L109.00,171.53 L109.50,171.33 L110.00,170.86 L110.50,170.88 L111.00,171.60 L111.50,171.66 L112.00,171.74 L112.50,171.92 L113.00,171.92 L113.50,171.63 L114.00,171.52 L114.50,170.82 L115.00,170.51 L115.50,170.58 L116.00,170.29 L116.50,170.03 L117.00,169.91 L117.50,169.82 L118.00,169.66 L118.50,169.46 L119.00,168.60 L119.50,169.13 L120.00,169.90 L120.50,169.88 L121.00,170.08 L121.50,170.67 L122.00,171.28 L122.50,171.35 L123.00,171.46 L123.50,171.63 L124.00,171.37 L124.50,171.40 L125.00,170.55 L125.50,170.40 L126.00,170.09 L126.50,169.73 L127.00,170.33 L127.50,170.99 L128.00,171.40 L128.50,171.84 L129.00,172.26 L129.50,172.04 L130.00,172.00 L130.50,173.32 L130.50,174.30Z" fill="#93bb3f" stroke="#7ea336" stroke-width="0.3"/>
<path d="M135.00,174.30 L135.00,173.39 L135.50,173.12 L136.00,172.99 L136.50,172.94 L137.00,173.40 L137.50,173.03 L138.00,173.00 L138.50,173.05 L138.50,174.30Z" fill="#93bb3f" stroke="#7ea336" stroke-width="0.3"/>
<path d="M141.00,174.30 L141.00,173.30 L141.50,173.39 L142.00,173.00 L142.50,173.31 L142.50,174.30Z" fill="#93bb3f" stroke="#7ea336" stroke-width="0.3"/>
<path d="M144.50,174.30 L144.50,173.28 L145.00,173.14 L145.50,173.04 L146.00,172.53 L146.50,172.63 L147.00,172.48 L147.50,171.89 L148.00,171.68 L148.50,171.85 L149.00,172.19 L149.50,172.33 L150.00,172.56 L150.50,173.06 L151.00,173.20 L151.50,173.41 L152.00,173.32 L152.50,173.15 L153.00,173.45 L153.50,173.09 L153.50,174.30Z" fill="#93bb3f" stroke="#7ea336" stroke-width="0.3"/>
<text x="160.90" y="166.20" font-size="8.9" fill="#9fbb48"  stroke="#9fbb48" stroke-width="0.18">Ik</text>
<line x1="28.10" y1="179.50" x2="28.10" y2="197.10" stroke="#9a9a9a" stroke-width="0.7" />
<text x="26.50" y="184.38" font-size="8" text-anchor="end" fill="#7a7a7a"  stroke="#7a7a7a" stroke-width="0.18">30</text>
<path d="M28.50,196.22 L29.50,195.82 L30.50,196.28 L31.50,196.20 L32.50,196.30 L33.50,195.87 L34.50,196.09 L35.50,195.97 L36.50,196.09 L37.50,196.08 L38.50,195.89 L39.50,196.22 L40.50,196.08 L41.50,196.13 L42.50,196.26 L43.50,196.07 L44.50,195.85 L45.50,195.81 L46.50,195.99 L47.50,196.27 L48.50,196.00 L49.50,196.01 L50.50,196.06 L51.50,196.15 L52.50,195.06 L53.50,196.21 L54.50,196.08 L55.50,195.97 L56.50,196.01 L57.50,196.04 L58.50,196.10 L59.50,196.21 L60.50,196.03 L61.50,195.87 L62.50,196.25 L63.50,196.17 L64.50,196.02 L65.50,196.01 L66.50,196.04 L67.50,196.26 L68.50,196.26 L69.50,195.87 L70.50,195.94 L71.50,196.24 L72.50,195.94 L73.50,195.88 L74.50,196.21 L75.50,196.02 L76.50,196.23 L77.50,196.27 L78.50,195.31 L79.50,196.00 L80.50,196.15 L81.50,196.09 L82.50,195.99 L83.50,196.02 L84.50,195.86 L85.50,195.93 L86.50,195.92 L87.50,195.89 L88.50,196.11 L89.50,195.83 L90.50,196.28 L91.50,196.25 L92.50,195.90 L93.50,195.84 L94.50,196.17 L95.50,196.08 L96.50,196.01 L97.50,196.29 L98.50,195.90 L99.50,196.02 L100.50,195.96 L101.50,196.23 L102.50,196.03 L103.50,195.90 L104.50,196.29 L105.50,196.22 L106.50,195.86 L107.50,196.28 L108.50,195.89 L109.50,196.10 L110.50,196.22 L111.50,196.10 L112.50,195.19 L113.50,196.14 L114.50,195.85 L115.50,196.28 L116.50,196.12 L117.50,196.01 L118.50,195.32 L119.50,196.01 L120.50,196.29 L121.50,195.01 L122.50,196.23 L123.50,196.16 L124.50,196.05 L125.50,196.02 L126.50,195.82 L127.50,196.28 L128.50,195.91 L129.50,195.91 L130.50,195.98 L131.50,196.16 L132.50,195.86 L133.50,195.96 L134.50,195.92 L135.50,196.05 L136.50,196.12 L137.50,195.30 L138.50,196.13 L139.50,195.81 L140.50,196.12 L141.50,196.18 L142.50,195.43 L143.50,195.86 L144.50,196.08 L145.50,196.15 L146.50,196.27 L147.50,196.15 L148.50,196.02 L149.50,196.13 L150.50,196.01 L151.50,196.21 L152.50,195.81 L153.50,195.91" fill="none" stroke="#a0ab74" stroke-width="0.9" stroke-dasharray="10.9 0.7 7.9 1.5 6.2 0.9 4.2 0.8 6.1 1.3 5.7 1.0 5.6 1.2 10.9 1.2 5.6 1.3 11.7 1.2 4.6 1.4 11.0 0.9 5.1 0.8 8.3 1.5 9.1 1.5 5.7 0.9 10.0 1.2 7.2 1.3 6.7 0.7 7.3 0.6 9.0 0.9 8.0 1.2 6.1 1.1 4.1 1.5 8.5 1.6 4.4 1.2 9.8 0.9 4.7 0.8 5.1 1.4 4.7 1.4 7.4 1.1 8.7 1.2 9.3 1.2 6.6 1.3 6.1 1.3 10.1 1.4 6.5 1.4 11.8 1.1 6.2 1.1 11.5 0.7"/>
<text x="160.90" y="190.40" font-size="8.9" fill="#9fbb48"  stroke="#9fbb48" stroke-width="0.18">Input</text>
<line x1="28.10" y1="202.30" x2="28.10" y2="219.90" stroke="#9a9a9a" stroke-width="0.7" />
<text x="26.50" y="207.18" font-size="8" text-anchor="end" fill="#7a7a7a"  stroke="#7a7a7a" stroke-width="0.18">50</text>
<path d="M28.50,219.90 L28.50,219.09 L29.00,218.81 L29.50,218.71 L30.00,218.64 L30.50,218.88 L31.00,218.51 L31.50,218.96 L32.00,218.65 L32.50,219.05 L33.00,219.08 L33.50,219.02 L34.00,219.06 L34.50,218.80 L35.00,218.77 L35.50,218.99 L36.00,218.54 L36.50,218.88 L37.00,219.01 L37.50,218.99 L38.00,218.66 L38.50,218.55 L39.00,219.00 L39.50,219.08 L40.00,218.63 L40.50,218.95 L41.00,218.51 L41.50,218.80 L42.00,218.72 L42.50,218.89 L43.00,218.62 L43.50,218.82 L44.00,218.91 L44.50,218.56 L45.00,219.04 L45.50,218.66 L46.00,219.06 L46.50,218.71 L47.00,218.86 L47.50,218.58 L48.00,219.06 L48.50,218.76 L49.00,218.85 L49.50,218.55 L50.00,218.53 L50.50,218.72 L51.00,218.97 L51.50,218.95 L52.00,218.94 L52.50,218.84 L53.00,218.96 L53.50,218.98 L54.00,218.64 L54.50,218.71 L55.00,218.92 L55.50,218.50 L56.00,218.97 L56.50,218.76 L57.00,219.01 L57.50,218.58 L58.00,218.58 L58.50,218.94 L59.00,218.65 L59.50,218.61 L60.00,218.93 L60.50,218.90 L61.00,218.81 L61.50,218.57 L62.00,219.00 L62.50,218.69 L63.00,218.74 L63.50,218.83 L64.00,218.75 L64.50,218.57 L65.00,218.97 L65.50,218.57 L66.00,218.88 L66.50,218.63 L67.00,218.58 L67.50,218.99 L68.00,218.58 L68.50,218.50 L69.00,218.92 L69.50,219.09 L70.00,219.03 L70.50,218.52 L71.00,219.09 L71.50,218.55 L72.00,219.01 L72.50,218.66 L73.00,219.04 L73.50,219.00 L74.00,218.69 L74.50,219.05 L75.00,218.90 L75.50,218.55 L76.00,218.67 L76.50,218.57 L77.00,218.51 L77.50,219.08 L78.00,218.96 L78.50,218.62 L79.00,218.69 L79.50,219.08 L80.00,218.80 L80.50,218.96 L81.00,218.84 L81.50,219.04 L82.00,219.09 L82.50,218.51 L83.00,218.91 L83.50,218.57 L84.00,219.03 L84.50,218.81 L85.00,219.02 L85.50,218.84 L86.00,218.99 L86.50,218.69 L87.00,219.01 L87.50,218.66 L88.00,218.80 L88.50,219.03 L89.00,218.89 L89.50,218.80 L90.00,218.55 L90.50,218.89 L91.00,218.97 L91.50,218.52 L92.00,218.57 L92.50,218.66 L93.00,218.94 L93.50,218.99 L94.00,218.94 L94.50,219.06 L95.00,219.07 L95.50,218.79 L96.00,218.86 L96.50,218.77 L97.00,218.88 L97.50,219.09 L98.00,218.69 L98.50,218.71 L99.00,218.77 L99.50,218.77 L100.00,218.69 L100.50,218.51 L101.00,218.58 L101.50,218.67 L102.00,218.86 L102.50,218.91 L103.00,218.85 L103.50,218.52 L104.00,218.87 L104.50,218.87 L105.00,218.85 L105.50,219.01 L106.00,218.50 L106.50,219.10 L107.00,218.74 L107.50,218.54 L108.00,218.95 L108.50,218.73 L109.00,218.07 L109.50,218.16 L110.00,218.18 L110.50,218.15 L111.00,217.47 L111.50,217.22 L112.00,216.85 L112.50,217.05 L113.00,216.33 L113.50,216.22 L114.00,215.69 L114.50,215.40 L115.00,215.18 L115.50,214.43 L116.00,214.64 L116.50,213.82 L117.00,213.38 L117.50,213.21 L118.00,212.78 L118.50,212.55 L119.00,213.62 L119.50,213.98 L120.00,214.51 L120.50,215.10 L121.00,215.21 L121.50,215.68 L122.00,215.83 L122.50,215.77 L123.00,215.42 L123.50,215.66 L124.00,215.25 L124.50,215.04 L125.00,214.94 L125.50,214.38 L126.00,214.20 L126.50,213.21 L127.00,212.86 L127.50,213.00 L128.00,213.98 L128.50,214.85 L129.00,215.81 L129.50,216.64 L130.00,216.90 L130.50,217.78 L131.00,218.79 L131.00,219.90Z" fill="#25a894" stroke="#1d8f7e" stroke-width="0.3"/>
<path d="M134.50,219.90 L134.50,218.78 L135.00,218.61 L135.50,218.96 L136.00,219.00 L136.50,218.61 L137.00,218.82 L137.50,218.72 L138.00,218.60 L138.50,218.56 L139.00,218.58 L139.50,219.07 L139.50,219.90Z" fill="#25a894" stroke="#1d8f7e" stroke-width="0.3"/>
<path d="M141.50,219.90 L141.50,218.87 L142.00,218.60 L142.50,218.61 L143.00,219.03 L143.50,219.01 L144.00,218.83 L144.50,218.78 L145.00,218.48 L145.50,218.05 L146.00,218.06 L146.50,217.93 L147.00,218.32 L147.50,218.30 L148.00,218.10 L148.50,218.43 L149.00,218.72 L149.50,218.81 L150.00,218.62 L150.50,218.64 L151.00,219.01 L151.50,218.69 L152.00,218.88 L152.50,218.79 L153.00,218.96 L153.50,218.88 L153.50,219.90Z" fill="#25a894" stroke="#1d8f7e" stroke-width="0.3"/>
<text x="160.90" y="214.60" font-size="8.9" fill="#36a6a6"  stroke="#36a6a6" stroke-width="0.18">HA-Ik</text>
<line x1="28.10" y1="225.20" x2="28.10" y2="242.80" stroke="#9a9a9a" stroke-width="0.7" />
<text x="26.50" y="230.08" font-size="8" text-anchor="end" fill="#7a7a7a"  stroke="#7a7a7a" stroke-width="0.18">50</text>
<path d="M28.50,241.83 L29.50,241.99 L30.50,240.91 L31.50,241.91 L32.50,241.86 L33.50,241.88 L34.50,241.95 L35.50,241.57 L36.50,241.79 L37.50,241.69 L38.50,241.98 L39.50,241.82 L40.50,241.85 L41.50,241.68 L42.50,241.82 L43.50,241.71 L44.50,241.90 L45.50,241.64 L46.50,241.67 L47.50,241.96 L48.50,241.81 L49.50,241.75 L50.50,240.82 L51.50,241.70 L52.50,241.77 L53.50,241.79 L54.50,241.55 L55.50,241.75 L56.50,241.59 L57.50,241.63 L58.50,241.98 L59.50,241.72 L60.50,241.62 L61.50,241.09 L62.50,241.59 L63.50,241.96 L64.50,240.92 L65.50,241.66 L66.50,240.96 L67.50,241.65 L68.50,241.71 L69.50,241.59 L70.50,241.93 L71.50,240.94 L72.50,241.51 L73.50,241.87 L74.50,241.87 L75.50,241.72 L76.50,240.99 L77.50,241.85 L78.50,241.60 L79.50,241.87 L80.50,241.97 L81.50,241.81 L82.50,241.76 L83.50,241.82 L84.50,241.90 L85.50,240.92 L86.50,241.84 L87.50,241.80 L88.50,241.84 L89.50,241.60 L90.50,241.64 L91.50,241.70 L92.50,241.53 L93.50,240.76 L94.50,241.78 L95.50,241.98 L96.50,241.96 L97.50,241.91 L98.50,241.72 L99.50,241.75 L100.50,241.66 L101.50,241.89 L102.50,241.93 L103.50,241.90 L104.50,241.95 L105.50,241.52 L106.50,241.67 L107.50,241.55 L108.50,241.12 L109.50,240.85 L110.50,241.58 L111.50,241.88 L112.50,241.84 L113.50,241.92 L114.50,241.84 L115.50,241.92 L116.50,241.51 L117.50,241.98 L118.50,241.68 L119.50,241.73 L120.50,241.77 L121.50,241.79 L122.50,241.94 L123.50,241.94 L124.50,241.50 L125.50,241.74 L126.50,241.83 L127.50,241.75 L128.50,241.95 L129.50,241.57 L130.50,241.73 L131.50,241.93 L132.50,241.55 L133.50,241.89 L134.50,241.98 L135.50,241.52 L136.50,241.53 L137.50,241.97 L138.50,241.78 L139.50,241.63 L140.50,241.61 L141.50,241.97 L142.50,241.95 L143.50,241.61 L144.50,240.97 L145.50,241.74 L146.50,241.68 L147.50,241.71 L148.50,241.81 L149.50,241.92 L150.50,241.53 L151.50,241.58 L152.50,241.76 L153.50,241.95" fill="none" stroke="#64a29c" stroke-width="0.9" stroke-dasharray="4.9 1.1 8.3 0.7 7.7 0.8 8.3 1.1 6.9 0.8 7.2 0.8 5.0 0.8 11.0 1.1 11.1 0.6 11.5 1.1 10.3 1.2 9.5 0.8 10.0 0.8 6.1 0.6 7.1 1.1 6.3 1.5 4.7 1.2 5.9 1.2 10.3 1.3 4.5 0.8 8.8 1.6 4.3 1.2 9.5 1.4 6.7 1.4 7.7 1.5 4.1 1.5 7.3 1.0 4.7 0.8 9.9 1.3 5.2 0.9 5.1 0.8 5.8 0.9 11.8 1.6 10.3 1.1 8.0 1.4 11.3 1.4 9.1 0.8 9.0 1.4 10.3 0.7 9.7 0.9"/>
<text x="160.90" y="238.40" font-size="8.9" fill="#36a6a6"  stroke="#36a6a6" stroke-width="0.18">Input</text>
<line x1="123.20" y1="248.80" x2="128.70" y2="248.80" stroke="#de5a45" stroke-width="1.4" />
<text x="30.40" y="262.04" font-size="7.9" fill="#2a2c66" font-style="italic" stroke="#2a2c66" stroke-width="0.25">Ccnd2</text>
<line x1="67.00" y1="259.40" x2="118.30" y2="259.40" stroke="#2a2c66" stroke-width="0.7" />
<rect x="56.50" y="257.90" width="10.80" height="3.00" fill="#2a2c66" />
<rect x="88.35" y="257.40" width="0.90" height="4.00" fill="#2a2c66" />
<rect x="105.45" y="257.40" width="0.90" height="4.00" fill="#2a2c66" />
<rect x="112.85" y="257.40" width="0.90" height="4.00" fill="#2a2c66" />
<rect x="115.75" y="257.40" width="0.90" height="4.00" fill="#2a2c66" />
<rect x="117.75" y="257.40" width="0.90" height="4.00" fill="#2a2c66" />
<text x="333.90" y="147.01" font-size="7.8" text-anchor="end" fill="#707070"  stroke="#707070" stroke-width="0.18">5Kb</text>
<line x1="336.60" y1="144.20" x2="401.70" y2="144.20" stroke="#8a8a8a" stroke-width="0.7" />
<line x1="336.60" y1="142.40" x2="336.60" y2="146.00" stroke="#8a8a8a" stroke-width="0.7" />
<line x1="401.70" y1="142.40" x2="401.70" y2="146.00" stroke="#8a8a8a" stroke-width="0.7" />
<line x1="279.00" y1="156.20" x2="279.00" y2="173.80" stroke="#9a9a9a" stroke-width="0.7" />
<text x="277.40" y="161.08" font-size="8" text-anchor="end" fill="#7a7a7a"  stroke="#7a7a7a" stroke-width="0.18">20</text>
<path d="M279.40,173.80 L279.40,173.00 L279.90,172.52 L280.40,172.70 L280.90,172.65 L281.40,173.00 L281.90,172.60 L282.40,172.54 L282.90,172.56 L283.40,172.65 L283.90,172.60 L284.40,172.62 L284.90,172.75 L285.40,172.84 L285.90,172.60 L286.40,172.63 L286.90,172.58 L287.40,172.92 L287.90,172.52 L288.40,172.78 L288.90,172.53 L289.40,173.00 L289.90,172.52 L290.40,172.63 L290.90,172.95 L291.40,172.60 L291.90,172.96 L292.40,172.98 L292.90,172.83 L293.40,172.96 L293.90,172.80 L294.40,172.56 L294.90,172.69 L295.40,172.67 L295.90,172.86 L295.90,173.80Z" fill="#93bb3f" stroke="#7ea336" stroke-width="0.3"/>
<path d="M298.40,173.80 L298.40,172.63 L298.90,172.62 L299.40,172.69 L299.90,172.53 L300.40,172.60 L300.90,172.86 L300.90,173.80Z" fill="#93bb3f" stroke="#7ea336" stroke-width="0.3"/>
<path d="M303.40,173.80 L303.40,173.00 L303.90,172.71 L304.40,172.60 L304.90,172.90 L304.90,173.80Z" fill="#93bb3f" stroke="#7ea336" stroke-width="0.3"/>
<path d="M306.40,173.80 L306.40,172.74 L306.90,172.60 L307.40,172.62 L307.90,173.00 L308.40,172.81 L308.90,173.00 L309.40,173.00 L309.90,172.61 L309.90,173.80Z" fill="#93bb3f" stroke="#7ea336" stroke-width="0.3"/>
<path d="M313.40,173.80 L313.40,172.85 L313.90,172.74 L314.40,172.83 L314.90,172.90 L315.40,172.97 L315.90,172.89 L316.40,172.59 L316.90,172.73 L317.40,172.92 L317.90,173.00 L317.90,173.80Z" fill="#93bb3f" stroke="#7ea336" stroke-width="0.3"/>
<path d="M320.40,173.80 L320.40,172.94 L320.90,172.68 L321.40,172.83 L321.90,172.70 L322.40,172.62 L322.90,173.00 L323.40,172.69 L323.90,173.00 L323.90,173.80Z" fill="#93bb3f" stroke="#7ea336" stroke-width="0.3"/>
<path d="M327.40,173.80 L327.40,172.61 L327.90,172.99 L328.40,172.94 L328.90,172.53 L328.90,173.80Z" fill="#93bb3f" stroke="#7ea336" stroke-width="0.3"/>
<path d="M331.40,173.80 L331.40,172.88 L331.90,172.97 L332.40,172.57 L332.90,172.73 L333.40,172.56 L333.90,172.86 L334.40,172.80 L334.90,172.53 L335.40,172.80 L335.90,172.51 L336.40,172.99 L336.90,172.60 L337.40,173.00 L337.90,172.78 L338.40,173.00 L338.90,172.99 L339.40,172.53 L339.90,172.83 L340.40,172.61 L340.90,172.95 L341.40,172.89 L341.90,173.00 L342.40,172.77 L342.90,172.58 L342.90,173.80Z" fill="#93bb3f" stroke="#7ea336" stroke-width="0.3"/>
<path d="M346.40,173.80 L346.40,172.79 L346.90,172.87 L347.40,172.54 L347.90,172.56 L348.40,172.70 L348.90,173.00 L348.90,173.80Z" fill="#93bb3f" stroke="#7ea336" stroke-width="0.3"/>
<path d="M351.40,173.80 L351.40,172.73 L351.90,172.83 L352.40,172.53 L352.90,172.88 L353.40,172.70 L353.90,172.72 L354.40,172.87 L354.90,172.79 L355.40,172.69 L355.40,173.80Z" fill="#93bb3f" stroke="#7ea336" stroke-width="0.3"/>
<path d="M363.40,173.80 L363.40,171.52 L363.90,171.63 L364.40,171.56 L364.90,171.04 L365.40,171.69 L365.90,171.37 L366.40,171.60 L366.90,171.81 L367.40,172.01 L367.90,171.93 L368.40,171.87 L368.90,171.96 L369.40,171.95 L369.90,172.38 L370.40,172.18 L370.90,172.13 L371.40,171.45 L371.90,171.28 L372.40,171.52 L372.90,171.03 L373.40,170.90 L373.90,171.44 L374.40,171.45 L374.90,171.45 L375.40,171.71 L375.90,172.11 L376.40,171.94 L376.90,172.22 L377.40,172.07 L377.90,172.13 L378.40,171.77 L378.90,171.93 L379.40,171.74 L379.90,171.64 L380.40,171.51 L380.90,170.65 L381.40,170.03 L381.90,168.96 L382.40,167.78 L382.90,166.12 L383.40,163.98 L383.90,161.96 L384.40,160.38 L384.90,159.57 L385.40,159.32 L385.90,159.42 L386.40,160.16 L386.90,162.02 L387.40,163.38 L387.90,165.51 L388.40,167.12 L388.90,168.73 L389.40,169.76 L389.90,170.59 L390.40,170.86 L390.90,171.26 L391.40,171.98 L391.90,172.05 L392.40,171.70 L392.90,172.09 L393.40,171.94 L393.90,171.78 L394.40,171.87 L394.90,171.67 L395.40,171.65 L395.90,171.77 L396.40,171.53 L396.90,172.05 L397.40,172.18 L397.90,171.84 L398.40,172.13 L398.90,171.90 L399.40,172.02 L399.90,171.93 L400.40,172.21 L400.90,172.31 L400.90,173.80Z" fill="#93bb3f" stroke="#7ea336" stroke-width="0.3"/>
<text x="404.30" y="166.40" font-size="8.9" fill="#9fbb48"  stroke="#9fbb48" stroke-width="0.18">Ik</text>
<line x1="279.00" y1="179.10" x2="279.00" y2="196.70" stroke="#9a9a9a" stroke-width="0.7" />
<text x="277.40" y="183.98" font-size="8" text-anchor="end" fill="#7a7a7a"  stroke="#7a7a7a" stroke-width="0.18">20</text>
<path d="M279.40,196.70 L279.40,195.45 L279.90,195.62 L280.40,195.56 L280.90,195.50 L281.40,195.45 L281.90,195.73 L282.40,195.68 L282.90,195.35 L283.40,195.58 L283.90,195.73 L284.40,195.52 L284.90,195.74 L285.40,195.44 L285.90,195.88 L286.40,195.40 L286.90,195.56 L287.40,195.69 L287.90,195.34 L288.40,195.74 L288.90,195.75 L289.40,195.86 L289.90,195.57 L290.40,195.45 L290.90,195.49 L291.40,195.65 L291.90,195.42 L291.90,196.70Z" fill="#93bb3f" stroke="#7ea336" stroke-width="0.3"/>
<path d="M293.90,196.70 L293.90,195.83 L294.40,195.72 L294.90,195.51 L295.40,195.32 L295.90,195.52 L296.40,195.48 L296.90,195.44 L297.40,195.66 L297.90,195.34 L298.40,195.33 L298.90,195.38 L299.40,195.13 L299.90,194.66 L300.40,195.07 L300.90,195.39 L301.40,195.18 L301.90,195.56 L301.90,196.70Z" fill="#93bb3f" stroke="#7ea336" stroke-width="0.3"/>
<path d="M303.40,196.70 L303.40,195.59 L303.90,195.50 L304.40,195.36 L304.90,195.82 L305.40,195.70 L305.90,195.86 L306.40,195.65 L306.90,195.60 L307.40,195.39 L307.90,195.50 L308.40,195.55 L308.90,195.66 L309.40,195.56 L309.90,195.74 L310.40,195.39 L310.90,195.43 L311.40,195.40 L311.90,195.81 L312.40,195.50 L312.90,195.45 L313.40,195.60 L313.90,195.36 L314.40,195.36 L314.90,195.45 L315.40,195.41 L315.90,195.51 L316.40,195.37 L316.90,195.82 L317.40,195.43 L317.90,195.35 L318.40,195.32 L318.90,195.44 L319.40,195.47 L319.90,195.06 L320.40,194.98 L320.90,195.40 L321.40,195.53 L321.90,195.61 L322.40,195.77 L322.90,195.48 L323.40,195.32 L323.90,195.42 L324.40,195.68 L324.90,195.48 L325.40,195.86 L325.90,195.40 L326.40,195.70 L326.90,195.90 L327.40,195.52 L327.90,195.82 L328.40,195.73 L328.90,195.86 L329.40,195.63 L329.90,195.57 L330.40,195.42 L330.90,195.88 L331.40,195.40 L331.90,195.83 L332.40,195.77 L332.90,195.52 L333.40,195.70 L333.90,195.70 L334.40,195.56 L334.90,195.77 L335.40,195.42 L335.90,195.77 L336.40,195.40 L336.90,195.41 L337.40,195.50 L337.90,195.68 L338.40,195.10 L338.90,195.41 L339.40,194.98 L339.90,194.88 L340.40,195.18 L340.90,194.99 L341.40,195.08 L341.90,195.30 L342.40,195.53 L342.90,195.58 L343.40,195.55 L343.90,195.76 L344.40,195.38 L344.90,195.30 L345.40,195.42 L345.90,195.32 L346.40,195.70 L346.90,195.31 L346.90,196.70Z" fill="#93bb3f" stroke="#7ea336" stroke-width="0.3"/>
<path d="M348.40,196.70 L348.40,195.86 L348.90,195.61 L349.40,195.82 L349.90,195.63 L350.40,195.35 L350.90,195.12 L351.40,195.03 L351.90,194.85 L352.40,195.09 L352.90,195.21 L353.40,195.51 L353.90,195.75 L354.40,195.46 L354.90,195.59 L355.40,195.64 L355.90,195.78 L355.90,196.70Z" fill="#93bb3f" stroke="#7ea336" stroke-width="0.3"/>
<path d="M357.90,196.70 L357.90,195.48 L358.40,195.66 L358.90,195.42 L359.40,195.03 L359.90,194.73 L360.40,194.70 L360.90,195.05 L361.40,195.13 L361.90,195.32 L362.40,195.47 L362.90,195.47 L363.40,195.86 L363.90,195.78 L364.40,195.89 L364.90,195.38 L364.90,196.70Z" fill="#93bb3f" stroke="#7ea336" stroke-width="0.3"/>
<path d="M366.40,196.70 L366.40,195.47 L366.90,195.52 L367.40,195.74 L367.90,195.69 L368.40,195.68 L368.90,195.20 L369.40,194.77 L369.90,194.96 L370.40,195.25 L370.90,195.39 L371.40,195.49 L371.90,195.34 L372.40,195.42 L372.90,195.63 L373.40,195.84 L373.90,195.84 L374.40,195.81 L374.90,195.43 L375.40,195.62 L375.90,195.31 L376.40,195.35 L376.90,195.42 L377.40,195.61 L377.90,195.41 L378.40,195.82 L378.90,195.83 L379.40,195.56 L379.90,195.60 L380.40,195.77 L380.90,195.75 L381.40,195.89 L381.90,195.35 L381.90,196.70Z" fill="#93bb3f" stroke="#7ea336" stroke-width="0.3"/>
<path d="M383.40,196.70 L383.40,195.47 L383.90,195.33 L384.40,195.31 L384.90,195.64 L385.40,195.46 L385.90,195.67 L386.40,195.41 L386.90,195.40 L387.40,195.82 L387.90,195.89 L388.40,195.77 L388.90,195.55 L389.40,195.67 L389.90,195.89 L390.40,195.40 L390.90,195.43 L391.40,195.62 L391.90,195.87 L392.40,195.37 L392.90,195.58 L393.40,195.73 L393.90,195.39 L394.40,194.99 L394.90,194.61 L395.40,194.99 L395.90,195.11 L396.40,195.58 L396.90,195.73 L397.40,195.36 L397.90,195.67 L398.40,195.84 L398.90,195.55 L399.40,195.82 L399.90,195.78 L400.40,195.63 L400.90,195.55 L400.90,196.70Z" fill="#93bb3f" stroke="#7ea336" stroke-width="0.3"/>
<text x="404.30" y="190.30" font-size="8.9" fill="#9fbb48"  stroke="#9fbb48" stroke-width="0.18">Input</text>
<line x1="279.00" y1="201.90" x2="279.00" y2="219.50" stroke="#9a9a9a" stroke-width="0.7" />
<text x="277.40" y="206.78" font-size="8" text-anchor="end" fill="#7a7a7a"  stroke="#7a7a7a" stroke-width="0.18">90</text>
<path d="M279.40,219.50 L279.40,218.42 L279.90,218.38 L280.40,218.54 L280.90,218.70 L281.40,218.25 L281.90,218.47 L282.40,218.02 L282.90,217.85 L283.40,217.47 L283.90,217.22 L284.40,217.64 L284.90,217.61 L285.40,217.80 L285.90,218.14 L286.40,218.53 L286.90,218.23 L287.40,218.44 L287.90,218.70 L288.40,218.66 L288.90,218.21 L288.90,219.50Z" fill="#25a894" stroke="#1d8f7e" stroke-width="0.3"/>
<path d="M291.40,219.50 L291.40,218.66 L291.90,218.56 L292.40,218.33 L292.90,218.31 L293.40,218.42 L293.90,218.36 L294.40,218.70 L294.90,218.70 L295.40,218.21 L295.90,218.32 L296.40,218.70 L296.90,218.70 L297.40,218.66 L297.90,218.24 L298.40,218.67 L298.90,218.40 L299.40,218.24 L299.90,218.42 L299.90,219.50Z" fill="#25a894" stroke="#1d8f7e" stroke-width="0.3"/>
<path d="M301.90,219.50 L301.90,218.25 L302.40,218.64 L302.90,218.70 L303.40,218.70 L303.90,218.35 L304.40,218.70 L304.90,218.22 L305.40,218.37 L305.90,218.69 L306.40,218.32 L306.90,218.70 L307.40,218.49 L307.90,218.70 L308.40,218.33 L308.90,218.27 L309.40,218.25 L309.90,218.70 L310.40,218.29 L310.90,218.47 L311.40,218.31 L311.90,218.50 L311.90,219.50Z" fill="#25a894" stroke="#1d8f7e" stroke-width="0.3"/>
<path d="M314.40,219.50 L314.40,218.43 L314.90,218.44 L315.40,218.32 L315.90,218.70 L316.40,218.70 L316.90,218.47 L317.40,218.63 L317.90,218.56 L318.40,218.70 L318.90,218.35 L319.40,218.70 L319.90,218.30 L320.40,218.31 L320.90,218.53 L321.40,218.70 L321.90,218.41 L322.40,218.68 L322.90,218.54 L323.40,218.70 L323.90,218.21 L324.40,218.47 L324.90,218.59 L325.40,218.70 L325.90,218.36 L326.40,218.29 L326.90,218.29 L327.40,218.70 L327.90,218.58 L328.40,218.62 L328.90,218.34 L329.40,218.70 L329.90,218.44 L330.40,218.21 L330.90,218.34 L331.40,218.70 L331.90,218.70 L331.90,219.50Z" fill="#25a894" stroke="#1d8f7e" stroke-width="0.3"/>
<path d="M334.40,219.50 L334.40,218.70 L334.90,218.38 L335.40,218.44 L335.90,218.49 L336.40,218.53 L336.90,218.56 L337.40,218.43 L337.90,218.41 L338.40,218.25 L338.90,218.36 L339.40,218.32 L339.90,218.25 L340.40,218.30 L340.90,218.37 L341.40,218.70 L341.90,218.39 L342.40,218.29 L342.90,218.54 L343.40,218.27 L343.90,218.69 L344.40,218.23 L344.90,218.53 L345.40,218.38 L345.90,218.65 L346.40,218.62 L346.90,218.59 L347.40,218.61 L347.90,218.70 L348.40,218.53 L348.90,218.21 L349.40,218.41 L349.90,218.24 L350.40,218.34 L350.90,218.30 L351.40,218.20 L351.90,218.35 L352.40,218.64 L352.90,218.65 L353.40,218.55 L353.90,218.70 L354.40,218.66 L354.90,218.27 L355.40,218.25 L355.90,218.60 L355.90,219.50Z" fill="#25a894" stroke="#1d8f7e" stroke-width="0.3"/>
<path d="M358.40,219.50 L358.40,218.34 L358.90,218.34 L359.40,218.27 L359.90,218.32 L360.40,218.48 L360.90,218.70 L361.40,218.30 L361.90,218.61 L361.90,219.50Z" fill="#25a894" stroke="#1d8f7e" stroke-width="0.3"/>
<path d="M364.40,219.50 L364.40,218.42 L364.90,218.58 L365.40,218.48 L365.90,218.22 L366.40,218.70 L366.90,217.68 L367.40,217.61 L367.90,217.68 L368.40,217.44 L368.90,217.76 L369.40,217.45 L369.90,217.59 L370.40,217.42 L370.90,217.95 L371.40,217.87 L371.90,217.83 L372.40,217.46 L372.90,217.99 L373.40,217.84 L373.90,217.57 L374.40,217.41 L374.90,217.89 L375.40,217.74 L375.90,217.59 L376.40,217.59 L376.90,217.55 L377.40,217.55 L377.90,217.85 L378.40,217.85 L378.90,217.98 L379.40,217.58 L379.90,217.84 L380.40,217.70 L380.90,216.97 L381.40,216.40 L381.90,214.91 L382.40,212.41 L382.90,209.35 L383.40,206.46 L383.90,205.26 L384.40,206.22 L384.90,209.16 L385.40,212.65 L385.90,214.99 L386.40,216.12 L386.90,215.63 L387.40,213.85 L387.90,211.86 L388.40,211.29 L388.90,212.00 L389.40,212.91 L389.90,214.75 L390.40,216.11 L390.90,216.90 L391.40,218.16 L391.40,219.50Z" fill="#25a894" stroke="#1d8f7e" stroke-width="0.3"/>
<path d="M395.40,219.50 L395.40,218.39 L395.90,218.51 L396.40,218.17 L396.90,218.35 L397.40,217.64 L397.90,217.78 L398.40,217.35 L398.90,218.05 L399.40,217.79 L399.90,218.36 L400.40,218.17 L400.90,218.32 L400.90,219.50Z" fill="#25a894" stroke="#1d8f7e" stroke-width="0.3"/>
<text x="404.30" y="214.40" font-size="8.9" fill="#36a6a6"  stroke="#36a6a6" stroke-width="0.18">HA-Ik</text>
<line x1="279.00" y1="224.90" x2="279.00" y2="242.50" stroke="#9a9a9a" stroke-width="0.7" />
<text x="277.40" y="229.78" font-size="8" text-anchor="end" fill="#7a7a7a"  stroke="#7a7a7a" stroke-width="0.18">90</text>
<path d="M279.40,241.36 L280.40,241.70 L281.40,241.25 L282.40,241.37 L283.40,241.37 L284.40,241.63 L285.40,241.21 L286.40,241.37 L287.40,240.79 L288.40,241.69 L289.40,241.63 L290.40,241.52 L291.40,241.63 L292.40,241.57 L293.40,241.44 L294.40,241.58 L295.40,241.56 L296.40,241.32 L297.40,241.60 L298.40,241.51 L299.40,241.38 L300.40,240.47 L301.40,241.37 L302.40,240.78 L303.40,241.48 L304.40,241.47 L305.40,241.65 L306.40,241.46 L307.40,241.58 L308.40,240.84 L309.40,241.52 L310.40,241.23 L311.40,241.66 L312.40,241.33 L313.40,241.26 L314.40,241.27 L315.40,241.23 L316.40,241.58 L317.40,241.27 L318.40,241.66 L319.40,241.24 L320.40,240.53 L321.40,241.47 L322.40,241.60 L323.40,241.52 L324.40,241.21 L325.40,240.81 L326.40,241.37 L327.40,241.69 L328.40,241.33 L329.40,241.58 L330.40,241.40 L331.40,241.63 L332.40,241.23 L333.40,241.27 L334.40,241.25 L335.40,241.59 L336.40,241.25 L337.40,240.79 L338.40,241.48 L339.40,241.60 L340.40,241.41 L341.40,241.50 L342.40,241.69 L343.40,241.58 L344.40,241.44 L345.40,241.45 L346.40,241.39 L347.40,241.28 L348.40,241.20 L349.40,241.59 L350.40,241.54 L351.40,241.53 L352.40,241.69 L353.40,241.62 L354.40,241.70 L355.40,241.57 L356.40,241.42 L357.40,241.63 L358.40,241.64 L359.40,241.63 L360.40,241.44 L361.40,240.46 L362.40,241.58 L363.40,241.41 L364.40,241.50 L365.40,241.37 L366.40,241.22 L367.40,241.23 L368.40,241.67 L369.40,240.85 L370.40,241.56 L371.40,241.22 L372.40,241.49 L373.40,241.28 L374.40,241.37 L375.40,241.64 L376.40,241.37 L377.40,241.30 L378.40,241.22 L379.40,241.66 L380.40,241.41 L381.40,241.35 L382.40,241.58 L383.40,241.44 L384.40,241.66 L385.40,241.39 L386.40,241.36 L387.40,241.70 L388.40,241.36 L389.40,241.38 L390.40,241.22 L391.40,241.58 L392.40,241.22 L393.40,241.50 L394.40,241.25 L395.40,241.33 L396.40,241.37 L397.40,241.64 L398.40,241.59 L399.40,241.68 L400.40,241.50" fill="none" stroke="#64a29c" stroke-width="0.9" stroke-dasharray="4.6 1.2 11.5 1.2 6.8 1.3 7.5 0.8 7.9 0.6 9.4 0.8 7.0 1.6 10.1 1.4 9.1 1.2 9.6 1.6 5.6 1.4 6.4 0.9 10.6 1.2 10.8 1.5 8.7 0.8 4.1 1.1 9.8 0.9 4.6 0.6 5.4 1.3 4.0 0.8 6.1 1.3 11.9 0.6 4.9 1.5 11.8 0.7 6.7 1.1 6.6 1.0 7.8 0.9 4.4 0.7 5.3 0.7 9.0 1.3 6.1 1.4 9.8 0.9 7.9 0.8 11.4 1.2 4.4 0.8 9.5 1.0 9.7 0.8 10.4 1.4 4.8 1.2 5.5 1.3"/>
<text x="404.30" y="238.40" font-size="8.9" fill="#36a6a6"  stroke="#36a6a6" stroke-width="0.18">Input</text>
<line x1="379.60" y1="248.10" x2="385.30" y2="248.10" stroke="#de5a45" stroke-width="1.4" />
<text x="280.60" y="261.84" font-size="7.9" fill="#2a2c66" font-style="italic" stroke="#2a2c66" stroke-width="0.25">Lig4</text>
<line x1="299.70" y1="258.80" x2="380.50" y2="258.80" stroke="#2a2c66" stroke-width="0.8" />
<rect x="299.70" y="257.60" width="14.70" height="2.40" fill="#2a2c66" />
<rect x="314.40" y="256.50" width="35.30" height="4.60" fill="#2a2c66" rx="2"/>
<rect x="380.20" y="257.30" width="3.30" height="3.00" fill="#2a2c66" />
<line x1="196.80" y1="13.80" x2="196.80" y2="105.30" stroke="#8a8a8a" stroke-width="0.7" />
<line x1="196.80" y1="105.30" x2="254.00" y2="105.30" stroke="#8a8a8a" stroke-width="0.7" />
<line x1="195.00" y1="105.30" x2="196.80" y2="105.30" stroke="#8a8a8a" stroke-width="0.6" />
<text x="192.50" y="107.93" font-size="7.3" text-anchor="end" fill="#111"  stroke="#111" stroke-width="0.18">0</text>
<line x1="195.00" y1="87.00" x2="196.80" y2="87.00" stroke="#8a8a8a" stroke-width="0.6" />
<text x="192.50" y="89.63" font-size="7.3" text-anchor="end" fill="#111"  stroke="#111" stroke-width="0.18">0.04</text>
<line x1="195.00" y1="68.70" x2="196.80" y2="68.70" stroke="#8a8a8a" stroke-width="0.6" />
<text x="192.50" y="71.33" font-size="7.3" text-anchor="end" fill="#111"  stroke="#111" stroke-width="0.18">0.08</text>
<line x1="195.00" y1="50.40" x2="196.80" y2="50.40" stroke="#8a8a8a" stroke-width="0.6" />
<text x="192.50" y="53.03" font-size="7.3" text-anchor="end" fill="#111"  stroke="#111" stroke-width="0.18">0.12</text>
<line x1="195.00" y1="32.10" x2="196.80" y2="32.10" stroke="#8a8a8a" stroke-width="0.6" />
<text x="192.50" y="34.73" font-size="7.3" text-anchor="end" fill="#111"  stroke="#111" stroke-width="0.18">0.16</text>
<line x1="195.00" y1="13.80" x2="196.80" y2="13.80" stroke="#8a8a8a" stroke-width="0.6" />
<text x="192.50" y="16.43" font-size="7.3" text-anchor="end" fill="#111"  stroke="#111" stroke-width="0.18">0.2</text>
<rect x="202.50" y="29.36" width="8.90" height="75.94" fill="#8e8e8e" stroke="#5c5c5c" stroke-width="0.5" />
<line x1="206.95" y1="28.67" x2="206.95" y2="29.36" stroke="#555" stroke-width="0.6" />
<line x1="205.75" y1="28.67" x2="208.15" y2="28.67" stroke="#555" stroke-width="0.6" />
<rect x="211.40" y="104.40" width="8.20" height="0.90" fill="#111" />
<rect x="231.80" y="101.18" width="8.80" height="4.12" fill="#8e8e8e" stroke="#5c5c5c" stroke-width="0.5" />
<line x1="236.20" y1="100.04" x2="236.20" y2="101.18" stroke="#555" stroke-width="0.6" />
<line x1="235.00" y1="100.04" x2="237.40" y2="100.04" stroke="#555" stroke-width="0.6" />
<rect x="240.60" y="104.40" width="8.40" height="0.90" fill="#111" />
<rect x="228.05" y="16.60" width="4.30" height="4.30" fill="#8e8e8e" stroke="#5c5c5c" stroke-width="0.5" />
<rect x="227.80" y="26.05" width="4.70" height="4.70" fill="#111" />
<text x="234.30" y="21.18" font-size="6.9" fill="#222"  stroke="#222" stroke-width="0.18">Ikaros</text>
<text x="234.30" y="30.88" font-size="6.9" fill="#222"  stroke="#222" stroke-width="0.18">IgG</text>
<text x="211.20" y="118.26" font-size="7.1" text-anchor="middle" fill="#222"  stroke="#222" stroke-width="0.18">Cd79b</text>
<text x="211.20" y="127.16" font-size="7.1" text-anchor="middle" fill="#222"  stroke="#222" stroke-width="0.18">3' enh.</text>
<text x="240.80" y="118.26" font-size="7.1" text-anchor="middle" fill="#222"  stroke="#222" stroke-width="0.18">control</text>
<line x1="448.50" y1="18.10" x2="448.50" y2="105.60" stroke="#8a8a8a" stroke-width="0.7" />
<line x1="448.50" y1="105.60" x2="517.00" y2="105.60" stroke="#8a8a8a" stroke-width="0.7" />
<line x1="446.70" y1="105.60" x2="448.50" y2="105.60" stroke="#8a8a8a" stroke-width="0.6" />
<text x="444.20" y="108.23" font-size="7.3" text-anchor="end" fill="#111"  stroke="#111" stroke-width="0.18">0</text>
<line x1="446.70" y1="94.66" x2="448.50" y2="94.66" stroke="#8a8a8a" stroke-width="0.6" />
<text x="444.20" y="97.29" font-size="7.3" text-anchor="end" fill="#111"  stroke="#111" stroke-width="0.18">0.2</text>
<line x1="446.70" y1="83.72" x2="448.50" y2="83.72" stroke="#8a8a8a" stroke-width="0.6" />
<text x="444.20" y="86.35" font-size="7.3" text-anchor="end" fill="#111"  stroke="#111" stroke-width="0.18">0.4</text>
<line x1="446.70" y1="72.79" x2="448.50" y2="72.79" stroke="#8a8a8a" stroke-width="0.6" />
<text x="444.20" y="75.42" font-size="7.3" text-anchor="end" fill="#111"  stroke="#111" stroke-width="0.18">0.6</text>
<line x1="446.70" y1="61.85" x2="448.50" y2="61.85" stroke="#8a8a8a" stroke-width="0.6" />
<text x="444.20" y="64.48" font-size="7.3" text-anchor="end" fill="#111"  stroke="#111" stroke-width="0.18">0.8</text>
<line x1="446.70" y1="50.91" x2="448.50" y2="50.91" stroke="#8a8a8a" stroke-width="0.6" />
<text x="444.20" y="53.54" font-size="7.3" text-anchor="end" fill="#111"  stroke="#111" stroke-width="0.18">1</text>
<line x1="446.70" y1="39.98" x2="448.50" y2="39.98" stroke="#8a8a8a" stroke-width="0.6" />
<text x="444.20" y="42.60" font-size="7.3" text-anchor="end" fill="#111"  stroke="#111" stroke-width="0.18">1.2</text>
<line x1="446.70" y1="29.04" x2="448.50" y2="29.04" stroke="#8a8a8a" stroke-width="0.6" />
<text x="444.20" y="31.67" font-size="7.3" text-anchor="end" fill="#111"  stroke="#111" stroke-width="0.18">1.4</text>
<line x1="446.70" y1="18.10" x2="448.50" y2="18.10" stroke="#8a8a8a" stroke-width="0.6" />
<text x="444.20" y="20.73" font-size="7.3" text-anchor="end" fill="#111"  stroke="#111" stroke-width="0.18">1.6</text>
<rect x="455.10" y="43.80" width="9.70" height="61.80" fill="#8e8e8e" stroke="#5c5c5c" stroke-width="0.5" />
<line x1="459.95" y1="23.02" x2="459.95" y2="43.80" stroke="#555" stroke-width="0.6" />
<line x1="458.75" y1="23.02" x2="461.15" y2="23.02" stroke="#555" stroke-width="0.6" />
<rect x="464.80" y="104.70" width="9.20" height="0.90" fill="#111" />
<rect x="486.70" y="104.94" width="8.90" height="0.66" fill="#8e8e8e" stroke="#5c5c5c" stroke-width="0.5" />
<rect x="495.60" y="104.70" width="8.90" height="0.90" fill="#111" />
<rect x="486.05" y="18.00" width="4.30" height="4.30" fill="#8e8e8e" stroke="#5c5c5c" stroke-width="0.5" />
<rect x="485.80" y="26.85" width="4.70" height="4.70" fill="#111" />
<text x="492.30" y="22.58" font-size="6.9" fill="#222"  stroke="#222" stroke-width="0.18">Ikaros</text>
<text x="492.30" y="31.68" font-size="6.9" fill="#222"  stroke="#222" stroke-width="0.18">IgG</text>
<text x="464.50" y="118.46" font-size="7.1" text-anchor="middle" fill="#222"  stroke="#222" stroke-width="0.18">Igll1</text>
<text x="464.50" y="126.96" font-size="7.1" text-anchor="middle" fill="#222"  stroke="#222" stroke-width="0.18">prom.</text>
<text x="495.90" y="118.46" font-size="7.1" text-anchor="middle" fill="#222"  stroke="#222" stroke-width="0.18">control</text>
<line x1="201.10" y1="159.00" x2="201.10" y2="242.70" stroke="#8a8a8a" stroke-width="0.7" />
<line x1="201.10" y1="242.70" x2="262.00" y2="242.70" stroke="#8a8a8a" stroke-width="0.7" />
<line x1="199.30" y1="242.70" x2="201.10" y2="242.70" stroke="#8a8a8a" stroke-width="0.6" />
<text x="196.80" y="245.33" font-size="7.3" text-anchor="end" fill="#111"  stroke="#111" stroke-width="0.18">0</text>
<line x1="199.30" y1="228.75" x2="201.10" y2="228.75" stroke="#8a8a8a" stroke-width="0.6" />
<text x="196.80" y="231.38" font-size="7.3" text-anchor="end" fill="#111"  stroke="#111" stroke-width="0.18">0.05</text>
<line x1="199.30" y1="214.80" x2="201.10" y2="214.80" stroke="#8a8a8a" stroke-width="0.6" />
<text x="196.80" y="217.43" font-size="7.3" text-anchor="end" fill="#111"  stroke="#111" stroke-width="0.18">0.1</text>
<line x1="199.30" y1="200.85" x2="201.10" y2="200.85" stroke="#8a8a8a" stroke-width="0.6" />
<text x="196.80" y="203.48" font-size="7.3" text-anchor="end" fill="#111"  stroke="#111" stroke-width="0.18">0.15</text>
<line x1="199.30" y1="186.90" x2="201.10" y2="186.90" stroke="#8a8a8a" stroke-width="0.6" />
<text x="196.80" y="189.53" font-size="7.3" text-anchor="end" fill="#111"  stroke="#111" stroke-width="0.18">0.2</text>
<line x1="199.30" y1="172.95" x2="201.10" y2="172.95" stroke="#8a8a8a" stroke-width="0.6" />
<text x="196.80" y="175.58" font-size="7.3" text-anchor="end" fill="#111"  stroke="#111" stroke-width="0.18">0.25</text>
<line x1="199.30" y1="159.00" x2="201.10" y2="159.00" stroke="#8a8a8a" stroke-width="0.6" />
<text x="196.80" y="161.63" font-size="7.3" text-anchor="end" fill="#111"  stroke="#111" stroke-width="0.18">0.3</text>
<rect x="207.00" y="192.48" width="9.90" height="50.22" fill="#8e8e8e" stroke="#5c5c5c" stroke-width="0.5" />
<line x1="211.95" y1="169.60" x2="211.95" y2="192.48" stroke="#555" stroke-width="0.6" />
<line x1="210.75" y1="169.60" x2="213.15" y2="169.60" stroke="#555" stroke-width="0.6" />
<rect x="216.90" y="241.80" width="7.90" height="0.90" fill="#111" />
<rect x="237.80" y="239.77" width="8.00" height="2.93" fill="#8e8e8e" stroke="#5c5c5c" stroke-width="0.5" />
<line x1="241.80" y1="239.21" x2="241.80" y2="239.77" stroke="#555" stroke-width="0.6" />
<line x1="240.60" y1="239.21" x2="243.00" y2="239.21" stroke="#555" stroke-width="0.6" />
<rect x="245.80" y="241.80" width="7.90" height="0.90" fill="#111" />
<rect x="237.05" y="158.60" width="4.30" height="4.30" fill="#8e8e8e" stroke="#5c5c5c" stroke-width="0.5" />
<rect x="236.80" y="167.35" width="4.70" height="4.70" fill="#111" />
<text x="243.30" y="163.18" font-size="6.9" fill="#222"  stroke="#222" stroke-width="0.18">Ikaros</text>
<text x="243.30" y="172.18" font-size="6.9" fill="#222"  stroke="#222" stroke-width="0.18">IgG</text>
<text x="216.60" y="254.86" font-size="7.1" text-anchor="middle" fill="#222"  stroke="#222" stroke-width="0.18">Ccnd2</text>
<text x="216.60" y="263.16" font-size="7.1" text-anchor="middle" fill="#222"  stroke="#222" stroke-width="0.18">prom.</text>
<text x="247.20" y="254.86" font-size="7.1" text-anchor="middle" fill="#222"  stroke="#222" stroke-width="0.18">control</text>
<line x1="452.50" y1="156.20" x2="452.50" y2="245.60" stroke="#8a8a8a" stroke-width="0.7" />
<line x1="452.50" y1="245.60" x2="518.00" y2="245.60" stroke="#8a8a8a" stroke-width="0.7" />
<line x1="450.70" y1="245.60" x2="452.50" y2="245.60" stroke="#8a8a8a" stroke-width="0.6" />
<text x="448.20" y="248.23" font-size="7.3" text-anchor="end" fill="#111"  stroke="#111" stroke-width="0.18">0</text>
<line x1="450.70" y1="234.42" x2="452.50" y2="234.42" stroke="#8a8a8a" stroke-width="0.6" />
<text x="448.20" y="237.05" font-size="7.3" text-anchor="end" fill="#111"  stroke="#111" stroke-width="0.18">0.01</text>
<line x1="450.70" y1="223.25" x2="452.50" y2="223.25" stroke="#8a8a8a" stroke-width="0.6" />
<text x="448.20" y="225.88" font-size="7.3" text-anchor="end" fill="#111"  stroke="#111" stroke-width="0.18">0.02</text>
<line x1="450.70" y1="212.07" x2="452.50" y2="212.07" stroke="#8a8a8a" stroke-width="0.6" />
<text x="448.20" y="214.70" font-size="7.3" text-anchor="end" fill="#111"  stroke="#111" stroke-width="0.18">0.03</text>
<line x1="450.70" y1="200.90" x2="452.50" y2="200.90" stroke="#8a8a8a" stroke-width="0.6" />
<text x="448.20" y="203.53" font-size="7.3" text-anchor="end" fill="#111"  stroke="#111" stroke-width="0.18">0.04</text>
<line x1="450.70" y1="189.72" x2="452.50" y2="189.72" stroke="#8a8a8a" stroke-width="0.6" />
<text x="448.20" y="192.35" font-size="7.3" text-anchor="end" fill="#111"  stroke="#111" stroke-width="0.18">0.05</text>
<line x1="450.70" y1="178.55" x2="452.50" y2="178.55" stroke="#8a8a8a" stroke-width="0.6" />
<text x="448.20" y="181.18" font-size="7.3" text-anchor="end" fill="#111"  stroke="#111" stroke-width="0.18">0.06</text>
<line x1="450.70" y1="167.38" x2="452.50" y2="167.38" stroke="#8a8a8a" stroke-width="0.6" />
<text x="448.20" y="170.00" font-size="7.3" text-anchor="end" fill="#111"  stroke="#111" stroke-width="0.18">0.07</text>
<line x1="450.70" y1="156.20" x2="452.50" y2="156.20" stroke="#8a8a8a" stroke-width="0.6" />
<text x="448.20" y="158.83" font-size="7.3" text-anchor="end" fill="#111"  stroke="#111" stroke-width="0.18">0.08</text>
<rect x="460.00" y="174.08" width="9.00" height="71.52" fill="#8e8e8e" stroke="#5c5c5c" stroke-width="0.5" />
<line x1="464.50" y1="164.02" x2="464.50" y2="174.08" stroke="#555" stroke-width="0.6" />
<line x1="463.30" y1="164.02" x2="465.70" y2="164.02" stroke="#555" stroke-width="0.6" />
<rect x="469.00" y="243.59" width="8.60" height="2.01" fill="#111" />
<rect x="490.50" y="236.10" width="8.40" height="9.50" fill="#8e8e8e" stroke="#5c5c5c" stroke-width="0.5" />
<line x1="494.70" y1="233.31" x2="494.70" y2="236.10" stroke="#555" stroke-width="0.6" />
<line x1="493.50" y1="233.31" x2="495.90" y2="233.31" stroke="#555" stroke-width="0.6" />
<rect x="498.90" y="244.37" width="9.10" height="1.23" fill="#111" />
<rect x="488.45" y="154.60" width="4.30" height="4.30" fill="#8e8e8e" stroke="#5c5c5c" stroke-width="0.5" />
<rect x="488.20" y="164.15" width="4.70" height="4.70" fill="#111" />
<text x="494.70" y="159.18" font-size="6.9" fill="#222"  stroke="#222" stroke-width="0.18">Ikaros</text>
<text x="494.70" y="168.98" font-size="6.9" fill="#222"  stroke="#222" stroke-width="0.18">IgG</text>
<text x="469.00" y="257.96" font-size="7.1" text-anchor="middle" fill="#222"  stroke="#222" stroke-width="0.18">Lig4</text>
<text x="469.00" y="266.86" font-size="7.1" text-anchor="middle" fill="#222"  stroke="#222" stroke-width="0.18">prom.</text>
<text x="498.80" y="257.96" font-size="7.1" text-anchor="middle" fill="#222"  stroke="#222" stroke-width="0.18">control</text>
<text x="0.60" y="9.53" font-size="11.2" fill="#000" font-weight="bold"  stroke="#000" stroke-width="0.18">A</text>
<text x="1.00" y="289.08" font-size="10.5" fill="#000" font-weight="bold"  stroke="#000" stroke-width="0.18">B</text>
<text x="151.80" y="289.98" font-size="10.5" fill="#000" font-weight="bold"  stroke="#000" stroke-width="0.18">C</text>
<text x="336.20" y="289.98" font-size="10.5" fill="#000" font-weight="bold"  stroke="#000" stroke-width="0.18">D</text>
<text x="0.40" y="399.18" font-size="10.5" fill="#000" font-weight="bold"  stroke="#000" stroke-width="0.18">E</text>
<text x="259.60" y="399.18" font-size="10.5" fill="#000" font-weight="bold"  stroke="#000" stroke-width="0.18">F</text>
<text x="1.80" y="537.28" font-size="10.5" fill="#000" font-weight="bold"  stroke="#000" stroke-width="0.18">G</text>
<circle cx="82.1" cy="335.6" r="29.8" fill="#cacacf"/>
<circle cx="96.9" cy="336.5" r="34.4" fill="#70a7e9" fill-opacity="0.455"/>
<text x="53.10" y="288.84" font-size="9" text-anchor="middle" fill="#1a1a1a"  stroke="#1a1a1a" stroke-width="0.18">B3 cells</text>
<text x="53.30" y="299.04" font-size="9" text-anchor="middle" fill="#1a1a1a"  stroke="#1a1a1a" stroke-width="0.18">6746 genes</text>
<text x="92.7" y="288.84" font-size="9" fill="#1a1a1a" textLength="50.6" lengthAdjust="spacingAndGlyphs" stroke="#1a1a1a" stroke-width="0.18">1<tspan font-size="6.6" dy="-3.0">o</tspan><tspan dy="3.0"> pre-B cells</tspan></text>
<text x="143.30" y="299.04" font-size="9" text-anchor="end" fill="#1a1a1a"  stroke="#1a1a1a" stroke-width="0.18">8418 genes</text>
<text x="49.80" y="339.74" font-size="9" text-anchor="middle" fill="#1a1a1a"  stroke="#1a1a1a" stroke-width="0.18">1213</text>
<text x="89.40" y="339.74" font-size="9" text-anchor="middle" fill="#1a1a1a"  stroke="#1a1a1a" stroke-width="0.18">5533</text>
<text x="126.20" y="339.74" font-size="9" text-anchor="middle" fill="#1a1a1a"  stroke="#1a1a1a" stroke-width="0.18">2885</text>
<line x1="198.00" y1="363.50" x2="199.80" y2="363.50" stroke="#999" stroke-width="0.6" />
<text x="193.30" y="366.13" font-size="7.3" text-anchor="end" fill="#111"  stroke="#111" stroke-width="0.18">0%</text>
<line x1="199.80" y1="347.72" x2="282.30" y2="347.72" stroke="#cfcfcf" stroke-width="0.7" />
<line x1="198.00" y1="347.72" x2="199.80" y2="347.72" stroke="#999" stroke-width="0.6" />
<text x="193.30" y="350.35" font-size="7.3" text-anchor="end" fill="#111"  stroke="#111" stroke-width="0.18">20%</text>
<line x1="199.80" y1="331.94" x2="282.30" y2="331.94" stroke="#cfcfcf" stroke-width="0.7" />
<line x1="198.00" y1="331.94" x2="199.80" y2="331.94" stroke="#999" stroke-width="0.6" />
<text x="193.30" y="334.57" font-size="7.3" text-anchor="end" fill="#111"  stroke="#111" stroke-width="0.18">40%</text>
<line x1="199.80" y1="316.16" x2="282.30" y2="316.16" stroke="#cfcfcf" stroke-width="0.7" />
<line x1="198.00" y1="316.16" x2="199.80" y2="316.16" stroke="#999" stroke-width="0.6" />
<text x="193.30" y="318.79" font-size="7.3" text-anchor="end" fill="#111"  stroke="#111" stroke-width="0.18">60%</text>
<line x1="199.80" y1="300.38" x2="282.30" y2="300.38" stroke="#cfcfcf" stroke-width="0.7" />
<line x1="198.00" y1="300.38" x2="199.80" y2="300.38" stroke="#999" stroke-width="0.6" />
<text x="193.30" y="303.01" font-size="7.3" text-anchor="end" fill="#111"  stroke="#111" stroke-width="0.18">80%</text>
<line x1="199.80" y1="284.60" x2="282.30" y2="284.60" stroke="#cfcfcf" stroke-width="0.7" />
<line x1="198.00" y1="284.60" x2="199.80" y2="284.60" stroke="#999" stroke-width="0.6" />
<text x="193.30" y="287.23" font-size="7.3" text-anchor="end" fill="#111"  stroke="#111" stroke-width="0.18">100%</text>
<line x1="199.80" y1="284.60" x2="199.80" y2="363.50" stroke="#a0a0a0" stroke-width="0.7" />
<line x1="199.80" y1="363.50" x2="282.30" y2="363.50" stroke="#a0a0a0" stroke-width="0.7" />
<rect x="208.50" y="284.60" width="11.10" height="11.44" fill="#e6e6e6" stroke="#c9c9c9" stroke-width="0.5" />
<rect x="208.50" y="296.04" width="11.10" height="67.46" fill="#868686" stroke="#707070" stroke-width="0.5" />
<rect x="235.90" y="284.60" width="11.10" height="22.49" fill="#e6e6e6" stroke="#c9c9c9" stroke-width="0.5" />
<rect x="235.90" y="307.09" width="11.10" height="56.41" fill="#868686" stroke="#707070" stroke-width="0.5" />
<rect x="263.80" y="284.60" width="11.10" height="34.72" fill="#e6e6e6" stroke="#c9c9c9" stroke-width="0.5" />
<rect x="263.80" y="319.32" width="11.10" height="44.18" fill="#868686" stroke="#707070" stroke-width="0.5" />
<line x1="227.30" y1="363.50" x2="227.30" y2="365.30" stroke="#a0a0a0" stroke-width="0.6" />
<line x1="254.80" y1="363.50" x2="254.80" y2="365.30" stroke="#a0a0a0" stroke-width="0.6" />
<text x="169.80" y="325.50" font-size="10" text-anchor="middle" fill="#111" transform="rotate(-90 169.80 325.50)"  stroke="#111" stroke-width="0.18">% of genes</text>
<text x="213.80" y="375.90" font-size="7.5" text-anchor="middle" fill="#111"  stroke="#111" stroke-width="0.18">2h</text>
<text x="241.20" y="375.90" font-size="7.5" text-anchor="middle" fill="#111"  stroke="#111" stroke-width="0.18">6h</text>
<text x="268.90" y="375.90" font-size="7.5" text-anchor="middle" fill="#111"  stroke="#111" stroke-width="0.18">48h</text>
<rect x="293.40" y="322.00" width="3.20" height="3.20" fill="#e6e6e6" stroke="#bbb" stroke-width="0.5" />
<rect x="293.40" y="334.00" width="3.20" height="3.20" fill="#868686" />
<text x="298.00" y="326.20" font-size="7.5" fill="#222"  stroke="#222" stroke-width="0.18">not peaked</text>
<text x="298.00" y="338.20" font-size="7.5" fill="#222"  stroke="#222" stroke-width="0.18">peaked</text>
<line x1="366.30" y1="364.40" x2="368.10" y2="364.40" stroke="#999" stroke-width="0.6" />
<text x="361.90" y="367.03" font-size="7.3" text-anchor="end" fill="#111"  stroke="#111" stroke-width="0.18">0</text>
<line x1="368.10" y1="350.95" x2="455.60" y2="350.95" stroke="#cfcfcf" stroke-width="0.7" />
<line x1="366.30" y1="350.95" x2="368.10" y2="350.95" stroke="#999" stroke-width="0.6" />
<text x="361.90" y="353.58" font-size="7.3" text-anchor="end" fill="#111"  stroke="#111" stroke-width="0.18">2</text>
<line x1="368.10" y1="337.50" x2="455.60" y2="337.50" stroke="#cfcfcf" stroke-width="0.7" />
<line x1="366.30" y1="337.50" x2="368.10" y2="337.50" stroke="#999" stroke-width="0.6" />
<text x="361.90" y="340.13" font-size="7.3" text-anchor="end" fill="#111"  stroke="#111" stroke-width="0.18">4</text>
<line x1="368.10" y1="324.05" x2="455.60" y2="324.05" stroke="#cfcfcf" stroke-width="0.7" />
<line x1="366.30" y1="324.05" x2="368.10" y2="324.05" stroke="#999" stroke-width="0.6" />
<text x="361.90" y="326.68" font-size="7.3" text-anchor="end" fill="#111"  stroke="#111" stroke-width="0.18">6</text>
<line x1="368.10" y1="310.60" x2="455.60" y2="310.60" stroke="#cfcfcf" stroke-width="0.7" />
<line x1="366.30" y1="310.60" x2="368.10" y2="310.60" stroke="#999" stroke-width="0.6" />
<text x="361.90" y="313.23" font-size="7.3" text-anchor="end" fill="#111"  stroke="#111" stroke-width="0.18">8</text>
<line x1="368.10" y1="297.15" x2="455.60" y2="297.15" stroke="#cfcfcf" stroke-width="0.7" />
<line x1="366.30" y1="297.15" x2="368.10" y2="297.15" stroke="#999" stroke-width="0.6" />
<text x="361.90" y="299.78" font-size="7.3" text-anchor="end" fill="#111"  stroke="#111" stroke-width="0.18">10</text>
<line x1="368.10" y1="283.70" x2="455.60" y2="283.70" stroke="#cfcfcf" stroke-width="0.7" />
<line x1="366.30" y1="283.70" x2="368.10" y2="283.70" stroke="#999" stroke-width="0.6" />
<text x="361.90" y="286.33" font-size="7.3" text-anchor="end" fill="#111"  stroke="#111" stroke-width="0.18">12</text>
<line x1="368.10" y1="283.70" x2="368.10" y2="364.40" stroke="#a0a0a0" stroke-width="0.7" />
<line x1="368.10" y1="364.40" x2="455.60" y2="364.40" stroke="#a0a0a0" stroke-width="0.7" />
<rect x="373.30" y="306.56" width="6.45" height="57.83" fill="#050505" />
<rect x="379.75" y="297.15" width="6.45" height="67.25" fill="#8d8d8d" stroke="#777" stroke-width="0.5" />
<rect x="386.20" y="319.34" width="6.45" height="45.06" fill="#e8e8e8" stroke="#bdbdbd" stroke-width="0.5" />
<rect x="402.60" y="333.46" width="6.45" height="30.94" fill="#050505" />
<rect x="409.05" y="332.79" width="6.45" height="31.61" fill="#8d8d8d" stroke="#777" stroke-width="0.5" />
<rect x="415.50" y="334.81" width="6.45" height="29.59" fill="#e8e8e8" stroke="#bdbdbd" stroke-width="0.5" />
<rect x="431.90" y="348.26" width="6.45" height="16.14" fill="#050505" />
<rect x="438.35" y="354.98" width="6.45" height="9.42" fill="#8d8d8d" stroke="#777" stroke-width="0.5" />
<rect x="444.80" y="345.57" width="6.45" height="18.83" fill="#e8e8e8" stroke="#bdbdbd" stroke-width="0.5" />
<line x1="397.30" y1="364.40" x2="397.30" y2="366.20" stroke="#a0a0a0" stroke-width="0.6" />
<line x1="426.40" y1="364.40" x2="426.40" y2="366.20" stroke="#a0a0a0" stroke-width="0.6" />
<text x="350.90" y="323.60" font-size="10" text-anchor="middle" fill="#111" transform="rotate(-90 350.90 323.60)"  stroke="#111" stroke-width="0.18">odds ratio</text>
<text x="382.70" y="377.30" font-size="7.5" text-anchor="middle" fill="#111"  stroke="#111" stroke-width="0.18">2h</text>
<text x="411.90" y="377.30" font-size="7.5" text-anchor="middle" fill="#111"  stroke="#111" stroke-width="0.18">6h</text>
<text x="441.50" y="377.30" font-size="7.5" text-anchor="middle" fill="#111"  stroke="#111" stroke-width="0.18">48h</text>
<rect x="463.30" y="309.40" width="3.40" height="3.60" fill="#050505" />
<text x="469.00" y="313.90" font-size="7.5" fill="#222"  stroke="#222" stroke-width="0.18">all</text>
<rect x="463.30" y="322.80" width="3.40" height="3.60" fill="#8d8d8d" />
<text x="469.00" y="327.30" font-size="7.5" fill="#222"  stroke="#222" stroke-width="0.18">upregulated</text>
<rect x="463.30" y="335.10" width="3.40" height="3.60" fill="#e8e8e8" stroke="#bbb" stroke-width="0.5" />
<text x="469.00" y="339.60" font-size="7.5" fill="#222"  stroke="#222" stroke-width="0.18">downregulated</text>
<linearGradient id="pa0" x1="27.0" x2="126.0" y1="0" y2="0" gradientUnits="userSpaceOnUse"><stop offset="0" stop-color="#6f9a1c"/><stop offset="1" stop-color="#6f9a1c"/></linearGradient>
<path d="M126.00,439.00 A49.5,22.5 0 0 1 124.73,444.06 L124.73,456.56 A49.5,22.5 0 0 0 126.00,451.50 Z" fill="url(#pa0)"/>
<linearGradient id="pa1" x1="27.0" x2="126.0" y1="0" y2="0" gradientUnits="userSpaceOnUse"><stop offset="0" stop-color="#74cf2a"/><stop offset="1" stop-color="#3f8214"/></linearGradient>
<path d="M124.73,444.06 A49.5,22.5 0 0 1 27.00,439.00 L27.00,451.50 A49.5,22.5 0 0 0 124.73,456.56 Z" fill="url(#pa1)"/>
<path d="M76.30,435.50 L76.50,416.50 A49.5,22.5 0 0 1 124.73,444.06 Z" fill="#dcf52c"/>
<path d="M76.30,435.50 L124.73,444.06 A49.5,22.5 0 1 1 45.82,421.34 Z" fill="#7ee82c"/>
<path d="M76.30,435.50 L45.82,421.34 A49.5,22.5 0 0 1 56.92,418.33 Z" fill="#33e3c8"/>
<path d="M76.30,435.50 L56.92,418.33 A49.5,22.5 0 0 1 76.50,416.50 Z" fill="#84848e"/>
<linearGradient id="pb0" x1="148.75" x2="245.75" y1="0" y2="0" gradientUnits="userSpaceOnUse"><stop offset="0" stop-color="#5a5a5a"/><stop offset="1" stop-color="#3c3c3c"/></linearGradient>
<path d="M245.75,437.70 A48.5,22.3 0 0 1 193.53,459.93 L193.53,470.93 A48.5,22.3 0 0 0 245.75,448.70 Z" fill="url(#pb0)"/>
<linearGradient id="pb1" x1="148.75" x2="245.75" y1="0" y2="0" gradientUnits="userSpaceOnUse"><stop offset="0" stop-color="#92c84a"/><stop offset="1" stop-color="#7fb43c"/></linearGradient>
<path d="M193.53,459.93 A48.5,22.3 0 0 1 148.75,437.70 L148.75,448.70 A48.5,22.3 0 0 0 193.53,470.93 Z" fill="url(#pb1)"/>
<path d="M197.25,437.70 L197.25,415.40 A48.5,22.3 0 1 1 193.53,459.93 Z" fill="#8c8c8c"/>
<path d="M197.25,437.70 L193.53,459.93 A48.5,22.3 0 0 1 197.25,415.40 Z" fill="#aaec5a"/>
<rect x="25.00" y="486.10" width="4.20" height="4.20" fill="#dcf52c" stroke="#8a9a20" stroke-width="0.7" />
<text x="30.30" y="490.76" font-size="7.1" fill="#1a1a1a"  stroke="#1a1a1a" stroke-width="0.18">upstream (2kb)</text>
<rect x="25.00" y="499.50" width="4.20" height="4.20" fill="#33e3c8" stroke="#1f8f7f" stroke-width="0.7" />
<text x="30.30" y="504.16" font-size="7.1" fill="#1a1a1a"  stroke="#1a1a1a" stroke-width="0.18">downstream (2kb)</text>
<rect x="103.40" y="486.70" width="4.20" height="4.20" fill="#7ee82c" stroke="#4f9a1a" stroke-width="0.7" />
<text x="108.70" y="491.36" font-size="7.1" fill="#1a1a1a"  stroke="#1a1a1a" stroke-width="0.18">inside genes</text>
<rect x="103.40" y="499.50" width="4.20" height="4.20" fill="#84848e" stroke="#555" stroke-width="0.7" />
<text x="108.70" y="504.16" font-size="7.1" fill="#1a1a1a"  stroke="#1a1a1a" stroke-width="0.18">outside genes (+/-2kb)</text>
<rect x="206.30" y="486.20" width="4.20" height="4.20" fill="#8c8c8c" stroke="#444" stroke-width="0.7" />
<text x="211.60" y="490.86" font-size="7.1" fill="#1a1a1a" stroke="#1a1a1a" stroke-width="0.4">others</text>
<rect x="206.30" y="497.90" width="4.20" height="4.20" fill="#aaec5a" stroke="#6a8a30" stroke-width="0.7" />
<text x="211.60" y="502.56" font-size="7.1" fill="#1a1a1a" stroke="#1a1a1a" stroke-width="0.4">TSS+/-1kb</text>
<line x1="315.70" y1="478.50" x2="317.50" y2="478.50" stroke="#999" stroke-width="0.6" />
<text x="311.20" y="481.60" font-size="8.6" text-anchor="end" fill="#111"  stroke="#111" stroke-width="0.18">0</text>
<line x1="317.50" y1="457.30" x2="471.50" y2="457.30" stroke="#cfcfcf" stroke-width="0.7" />
<line x1="315.70" y1="457.30" x2="317.50" y2="457.30" stroke="#999" stroke-width="0.6" />
<text x="311.20" y="460.40" font-size="8.6" text-anchor="end" fill="#111"  stroke="#111" stroke-width="0.18">1</text>
<line x1="317.50" y1="436.10" x2="471.50" y2="436.10" stroke="#cfcfcf" stroke-width="0.7" />
<line x1="315.70" y1="436.10" x2="317.50" y2="436.10" stroke="#999" stroke-width="0.6" />
<text x="311.20" y="439.20" font-size="8.6" text-anchor="end" fill="#111"  stroke="#111" stroke-width="0.18">2</text>
<line x1="317.50" y1="414.90" x2="471.50" y2="414.90" stroke="#cfcfcf" stroke-width="0.7" />
<line x1="315.70" y1="414.90" x2="317.50" y2="414.90" stroke="#999" stroke-width="0.6" />
<text x="311.20" y="418.00" font-size="8.6" text-anchor="end" fill="#111"  stroke="#111" stroke-width="0.18">3</text>
<line x1="317.50" y1="393.70" x2="471.50" y2="393.70" stroke="#cfcfcf" stroke-width="0.7" />
<line x1="315.70" y1="393.70" x2="317.50" y2="393.70" stroke="#999" stroke-width="0.6" />
<text x="311.20" y="396.80" font-size="8.6" text-anchor="end" fill="#111"  stroke="#111" stroke-width="0.18">4</text>
<line x1="317.50" y1="393.70" x2="317.50" y2="478.50" stroke="#a0a0a0" stroke-width="0.7" />
<line x1="317.50" y1="478.50" x2="471.50" y2="478.50" stroke="#a0a0a0" stroke-width="0.7" />
<rect x="322.90" y="429.10" width="5.80" height="49.40" fill="#050505" />
<rect x="328.70" y="435.46" width="5.80" height="43.04" fill="#8d8d8d" stroke="#777" stroke-width="0.5" />
<rect x="334.50" y="444.58" width="5.80" height="33.92" fill="#e2e2e2" stroke="#bdbdbd" stroke-width="0.5" />
<rect x="348.40" y="426.14" width="5.80" height="52.36" fill="#050505" />
<rect x="354.20" y="432.92" width="5.80" height="45.58" fill="#8d8d8d" stroke="#777" stroke-width="0.5" />
<rect x="360.00" y="441.40" width="5.80" height="37.10" fill="#e2e2e2" stroke="#bdbdbd" stroke-width="0.5" />
<rect x="373.90" y="426.56" width="5.80" height="51.94" fill="#050505" />
<rect x="379.70" y="431.86" width="5.80" height="46.64" fill="#8d8d8d" stroke="#777" stroke-width="0.5" />
<rect x="385.50" y="441.40" width="5.80" height="37.10" fill="#e2e2e2" stroke="#bdbdbd" stroke-width="0.5" />
<rect x="399.40" y="419.14" width="5.80" height="59.36" fill="#050505" />
<rect x="405.20" y="429.74" width="5.80" height="48.76" fill="#8d8d8d" stroke="#777" stroke-width="0.5" />
<rect x="411.00" y="443.52" width="5.80" height="34.98" fill="#e2e2e2" stroke="#bdbdbd" stroke-width="0.5" />
<rect x="424.90" y="422.32" width="5.80" height="56.18" fill="#050505" />
<rect x="430.70" y="445.64" width="5.80" height="32.86" fill="#8d8d8d" stroke="#777" stroke-width="0.5" />
<rect x="436.50" y="452.00" width="5.80" height="26.50" fill="#e2e2e2" stroke="#bdbdbd" stroke-width="0.5" />
<rect x="450.40" y="400.06" width="5.80" height="78.44" fill="#050505" />
<rect x="456.20" y="436.10" width="5.80" height="42.40" fill="#8d8d8d" stroke="#777" stroke-width="0.5" />
<rect x="462.00" y="449.88" width="5.80" height="28.62" fill="#e2e2e2" stroke="#bdbdbd" stroke-width="0.5" />
<line x1="343.17" y1="478.50" x2="343.17" y2="480.30" stroke="#a0a0a0" stroke-width="0.6" />
<line x1="368.84" y1="478.50" x2="368.84" y2="480.30" stroke="#a0a0a0" stroke-width="0.6" />
<line x1="394.51" y1="478.50" x2="394.51" y2="480.30" stroke="#a0a0a0" stroke-width="0.6" />
<line x1="420.18" y1="478.50" x2="420.18" y2="480.30" stroke="#a0a0a0" stroke-width="0.6" />
<line x1="445.85" y1="478.50" x2="445.85" y2="480.30" stroke="#a0a0a0" stroke-width="0.6" />
<text x="293.80" y="440.50" font-size="10" text-anchor="middle" fill="#111" transform="rotate(-90 293.80 440.50)"  stroke="#111" stroke-width="0.18">relative enrichment</text>
<text x="333.60" y="490.30" font-size="8.7" text-anchor="end" fill="#111" transform="rotate(-45 333.60 490.30)" stroke="#111" stroke-width="0.18">gene</text>
<text x="359.10" y="490.30" font-size="8.7" text-anchor="end" fill="#111" transform="rotate(-45 359.10 490.30)" stroke="#111" stroke-width="0.18">TSS</text>
<text x="384.60" y="490.30" font-size="8.7" text-anchor="end" fill="#111" transform="rotate(-45 384.60 490.30)" stroke="#111" stroke-width="0.18">exon</text>
<text x="410.10" y="490.30" font-size="8.7" text-anchor="end" fill="#111" transform="rotate(-45 410.10 490.30)" stroke="#111" stroke-width="0.18">intron</text>
<text x="435.60" y="490.30" font-size="8.7" text-anchor="end" fill="#111" transform="rotate(-45 435.60 490.30)" stroke="#111" stroke-width="0.18">TTS</text>
<text x="461.10" y="490.30" font-size="8.7" text-anchor="end" fill="#111" transform="rotate(-45 461.10 490.30)" stroke="#111" stroke-width="0.18">enhancer</text>
<rect x="482.80" y="437.80" width="4.30" height="4.40" fill="#050505" />
<text x="488.60" y="443.24" font-size="9" fill="#111"  stroke="#111" stroke-width="0.18">2h</text>
<rect x="482.80" y="452.00" width="4.30" height="4.40" fill="#8d8d8d" />
<text x="488.60" y="457.44" font-size="9" fill="#111"  stroke="#111" stroke-width="0.18">6h</text>
<rect x="482.80" y="466.20" width="4.30" height="4.40" fill="#e2e2e2" stroke="#bbb" stroke-width="0.5" />
<text x="488.60" y="471.64" font-size="9" fill="#111"  stroke="#111" stroke-width="0.18">48h</text>
<rect x="65.50" y="555.80" width="102.50" height="125.70" fill="none" stroke="#9a9a9a" stroke-width="0.7"/>
<text x="65.50" y="551.32" font-size="7" text-anchor="middle" fill="#111"  stroke="#111" stroke-width="0.18">0</text>
<text x="99.67" y="551.32" font-size="7" text-anchor="middle" fill="#111"  stroke="#111" stroke-width="0.18">20</text>
<text x="133.83" y="551.32" font-size="7" text-anchor="middle" fill="#111"  stroke="#111" stroke-width="0.18">40</text>
<text x="168.00" y="551.32" font-size="7" text-anchor="middle" fill="#111"  stroke="#111" stroke-width="0.18">60</text>
<text x="116.50" y="533.68" font-size="6.6" text-anchor="middle" fill="#111"  stroke="#111" stroke-width="0.18">overlap between binding sites</text>
<text x="116.50" y="541.38" font-size="6.6" text-anchor="middle" fill="#111"  stroke="#111" stroke-width="0.18">of Ikaros and other TFs (%)</text>
<text x="191.30" y="551.05" font-size="6.8" text-anchor="middle" fill="#111"  stroke="#111" stroke-width="0.18">p-value</text>
<text x="220.70" y="551.05" font-size="6.8" text-anchor="middle" fill="#111"  stroke="#111" stroke-width="0.18">reference</text>
<rect x="65.90" y="558.25" width="45.27" height="3.50" fill="#34379a" />
<line x1="63.90" y1="563.90" x2="65.50" y2="563.90" stroke="#b08070" stroke-width="0.5" />
<text x="60.30" y="562.45" font-size="6.8" text-anchor="end" fill="#111"  stroke="#111" stroke-width="0.18">E2A</text>
<text x="220.70" y="562.59" font-size="7.2" text-anchor="middle" fill="#111"  stroke="#111" stroke-width="0.18">33</text>
<text x="191.30" y="562.52" font-size="6.7" text-anchor="middle" fill="#111" stroke="#111" stroke-width="0.18">&lt; 10<tspan font-size="4.3" dy="-2.6" dx="0.3" fill="#444">-300</tspan></text>
<rect x="65.90" y="566.08" width="49.88" height="3.50" fill="#34379a" />
<line x1="63.90" y1="571.73" x2="65.50" y2="571.73" stroke="#b08070" stroke-width="0.5" />
<text x="60.30" y="570.28" font-size="6.8" text-anchor="end" fill="#111"  stroke="#111" stroke-width="0.18">Foxo1</text>
<text x="220.70" y="570.42" font-size="7.2" text-anchor="middle" fill="#111"  stroke="#111" stroke-width="0.18">33</text>
<text x="191.30" y="570.35" font-size="6.7" text-anchor="middle" fill="#111" stroke="#111" stroke-width="0.18">&lt; 10<tspan font-size="4.3" dy="-2.6" dx="0.3" fill="#444">-300</tspan></text>
<rect x="65.90" y="573.91" width="38.27" height="3.50" fill="#34379a" />
<line x1="63.90" y1="579.56" x2="65.50" y2="579.56" stroke="#b08070" stroke-width="0.5" />
<text x="60.30" y="578.11" font-size="6.8" text-anchor="end" fill="#111"  stroke="#111" stroke-width="0.18">Pax5</text>
<text x="220.70" y="578.25" font-size="7.2" text-anchor="middle" fill="#111"  stroke="#111" stroke-width="0.18">34</text>
<text x="191.30" y="578.18" font-size="6.7" text-anchor="middle" fill="#111" stroke="#111" stroke-width="0.18">&lt; 10<tspan font-size="4.3" dy="-2.6" dx="0.3" fill="#444">-300</tspan></text>
<rect x="65.90" y="581.74" width="89.35" height="3.50" fill="#34379a" />
<line x1="63.90" y1="587.39" x2="65.50" y2="587.39" stroke="#b08070" stroke-width="0.5" />
<text x="60.30" y="585.94" font-size="6.8" text-anchor="end" fill="#111"  stroke="#111" stroke-width="0.18">EBF1</text>
<text x="220.70" y="586.08" font-size="7.2" text-anchor="middle" fill="#111"  stroke="#111" stroke-width="0.18">33</text>
<text x="191.30" y="586.01" font-size="6.7" text-anchor="middle" fill="#111" stroke="#111" stroke-width="0.18">&lt; 10<tspan font-size="4.3" dy="-2.6" dx="0.3" fill="#444">-300</tspan></text>
<rect x="65.90" y="589.57" width="58.08" height="3.50" fill="#34379a" />
<line x1="63.90" y1="595.22" x2="65.50" y2="595.22" stroke="#b08070" stroke-width="0.5" />
<text x="60.30" y="593.77" font-size="6.8" text-anchor="end" fill="#111"  stroke="#111" stroke-width="0.18">EBF1</text>
<text x="220.70" y="593.91" font-size="7.2" text-anchor="middle" fill="#111"  stroke="#111" stroke-width="0.18">35</text>
<text x="191.30" y="593.84" font-size="6.7" text-anchor="middle" fill="#111" stroke="#111" stroke-width="0.18">&lt; 10<tspan font-size="4.3" dy="-2.6" dx="0.3" fill="#444">-300</tspan></text>
<rect x="65.90" y="597.40" width="32.29" height="3.50" fill="#34379a" />
<line x1="63.90" y1="603.05" x2="65.50" y2="603.05" stroke="#b08070" stroke-width="0.5" />
<text x="60.30" y="601.60" font-size="6.8" text-anchor="end" fill="#111"  stroke="#111" stroke-width="0.18">Erg1</text>
<text x="220.70" y="601.74" font-size="7.2" text-anchor="middle" fill="#111"  stroke="#111" stroke-width="0.18">37</text>
<text x="191.30" y="601.67" font-size="6.7" text-anchor="middle" fill="#111" stroke="#111" stroke-width="0.18">&lt; 10<tspan font-size="4.3" dy="-2.6" dx="0.3" fill="#444">-300</tspan></text>
<rect x="65.90" y="605.23" width="24.26" height="3.50" fill="#34379a" />
<line x1="63.90" y1="610.88" x2="65.50" y2="610.88" stroke="#b08070" stroke-width="0.5" />
<text x="60.30" y="609.43" font-size="6.8" text-anchor="end" fill="#111"  stroke="#111" stroke-width="0.18">Fli1</text>
<text x="220.70" y="609.57" font-size="7.2" text-anchor="middle" fill="#111"  stroke="#111" stroke-width="0.18">37</text>
<text x="191.30" y="609.50" font-size="6.7" text-anchor="middle" fill="#111" stroke="#111" stroke-width="0.18">&lt; 10<tspan font-size="4.3" dy="-2.6" dx="0.3" fill="#444">-300</tspan></text>
<rect x="65.90" y="613.06" width="8.88" height="3.50" fill="#34379a" />
<line x1="63.90" y1="618.71" x2="65.50" y2="618.71" stroke="#b08070" stroke-width="0.5" />
<text x="60.30" y="617.26" font-size="6.8" text-anchor="end" fill="#111"  stroke="#111" stroke-width="0.18">Gata2</text>
<text x="220.70" y="617.40" font-size="7.2" text-anchor="middle" fill="#111"  stroke="#111" stroke-width="0.18">37</text>
<text x="191.30" y="617.33" font-size="6.7" text-anchor="middle" fill="#111" stroke="#111" stroke-width="0.18">&lt; 10<tspan font-size="4.3" dy="-2.6" dx="0.3" fill="#444">-300</tspan></text>
<rect x="65.90" y="620.89" width="36.73" height="3.50" fill="#34379a" />
<line x1="63.90" y1="626.54" x2="65.50" y2="626.54" stroke="#b08070" stroke-width="0.5" />
<text x="60.30" y="625.09" font-size="6.8" text-anchor="end" fill="#111"  stroke="#111" stroke-width="0.18">Gfi1</text>
<text x="220.70" y="625.23" font-size="7.2" text-anchor="middle" fill="#111"  stroke="#111" stroke-width="0.18">37</text>
<text x="191.30" y="625.16" font-size="6.7" text-anchor="middle" fill="#111" stroke="#111" stroke-width="0.18">&lt; 10<tspan font-size="4.3" dy="-2.6" dx="0.3" fill="#444">-300</tspan></text>
<rect x="65.90" y="628.72" width="12.98" height="3.50" fill="#34379a" />
<line x1="63.90" y1="634.37" x2="65.50" y2="634.37" stroke="#b08070" stroke-width="0.5" />
<text x="60.30" y="632.92" font-size="6.8" text-anchor="end" fill="#111"  stroke="#111" stroke-width="0.18">Lmo2</text>
<text x="220.70" y="633.06" font-size="7.2" text-anchor="middle" fill="#111"  stroke="#111" stroke-width="0.18">37</text>
<text x="191.30" y="632.99" font-size="6.7" text-anchor="middle" fill="#111" stroke="#111" stroke-width="0.18">&lt; 10<tspan font-size="4.3" dy="-2.6" dx="0.3" fill="#444">-300</tspan></text>
<rect x="65.90" y="636.55" width="11.62" height="3.50" fill="#34379a" />
<line x1="63.90" y1="642.20" x2="65.50" y2="642.20" stroke="#b08070" stroke-width="0.5" />
<text x="60.30" y="640.75" font-size="6.8" text-anchor="end" fill="#111"  stroke="#111" stroke-width="0.18">Lyl1</text>
<text x="220.70" y="640.89" font-size="7.2" text-anchor="middle" fill="#111"  stroke="#111" stroke-width="0.18">37</text>
<text x="191.30" y="640.82" font-size="6.7" text-anchor="middle" fill="#111" stroke="#111" stroke-width="0.18">1.2x10<tspan font-size="4.3" dy="-2.6" dx="0.3" fill="#444">-262</tspan></text>
<rect x="65.90" y="644.38" width="21.87" height="3.50" fill="#34379a" />
<line x1="63.90" y1="650.03" x2="65.50" y2="650.03" stroke="#b08070" stroke-width="0.5" />
<text x="60.30" y="648.58" font-size="6.8" text-anchor="end" fill="#111"  stroke="#111" stroke-width="0.18">Meis1</text>
<text x="220.70" y="648.72" font-size="7.2" text-anchor="middle" fill="#111"  stroke="#111" stroke-width="0.18">37</text>
<text x="191.30" y="648.65" font-size="6.7" text-anchor="middle" fill="#111" stroke="#111" stroke-width="0.18">&lt; 10<tspan font-size="4.3" dy="-2.6" dx="0.3" fill="#444">-300</tspan></text>
<rect x="65.90" y="652.21" width="28.02" height="3.50" fill="#34379a" />
<line x1="63.90" y1="657.86" x2="65.50" y2="657.86" stroke="#b08070" stroke-width="0.5" />
<text x="60.30" y="656.41" font-size="6.8" text-anchor="end" fill="#111"  stroke="#111" stroke-width="0.18">Runx1</text>
<text x="220.70" y="656.55" font-size="7.2" text-anchor="middle" fill="#111"  stroke="#111" stroke-width="0.18">37</text>
<text x="191.30" y="656.48" font-size="6.7" text-anchor="middle" fill="#111" stroke="#111" stroke-width="0.18">&lt; 10<tspan font-size="4.3" dy="-2.6" dx="0.3" fill="#444">-300</tspan></text>
<rect x="65.90" y="660.04" width="41.85" height="3.50" fill="#34379a" />
<line x1="63.90" y1="665.69" x2="65.50" y2="665.69" stroke="#b08070" stroke-width="0.5" />
<text x="60.30" y="664.24" font-size="6.8" text-anchor="end" fill="#111"  stroke="#111" stroke-width="0.18">Scl</text>
<text x="220.70" y="664.38" font-size="7.2" text-anchor="middle" fill="#111"  stroke="#111" stroke-width="0.18">37</text>
<text x="191.30" y="664.31" font-size="6.7" text-anchor="middle" fill="#111" stroke="#111" stroke-width="0.18">&lt; 10<tspan font-size="4.3" dy="-2.6" dx="0.3" fill="#444">-300</tspan></text>
<rect x="65.90" y="667.87" width="31.26" height="3.50" fill="#34379a" />
<line x1="63.90" y1="673.52" x2="65.50" y2="673.52" stroke="#b08070" stroke-width="0.5" />
<text x="60.30" y="672.07" font-size="6.8" text-anchor="end" fill="#111"  stroke="#111" stroke-width="0.18">PU.1</text>
<text x="220.70" y="672.21" font-size="7.2" text-anchor="middle" fill="#111"  stroke="#111" stroke-width="0.18">37</text>
<text x="191.30" y="672.14" font-size="6.7" text-anchor="middle" fill="#111" stroke="#111" stroke-width="0.18">&lt; 10<tspan font-size="4.3" dy="-2.6" dx="0.3" fill="#444">-300</tspan></text>
<rect x="65.90" y="675.70" width="27.85" height="3.50" fill="#34379a" />
<line x1="63.90" y1="681.35" x2="65.50" y2="681.35" stroke="#b08070" stroke-width="0.5" />
<text x="60.30" y="679.90" font-size="6.8" text-anchor="end" fill="#111"  stroke="#111" stroke-width="0.18">PU.1</text>
<text x="220.70" y="680.04" font-size="7.2" text-anchor="middle" fill="#111"  stroke="#111" stroke-width="0.18">36</text>
<text x="191.30" y="679.97" font-size="6.7" text-anchor="middle" fill="#111" stroke="#111" stroke-width="0.18">&lt; 10<tspan font-size="4.3" dy="-2.6" dx="0.3" fill="#444">-300</tspan></text>
<rect x="317.50" y="555.80" width="103.70" height="124.70" fill="none" stroke="#9a9a9a" stroke-width="0.7"/>
<text x="317.50" y="551.32" font-size="7" text-anchor="middle" fill="#111"  stroke="#111" stroke-width="0.18">0</text>
<text x="343.43" y="551.32" font-size="7" text-anchor="middle" fill="#111"  stroke="#111" stroke-width="0.18">20</text>
<text x="369.35" y="551.32" font-size="7" text-anchor="middle" fill="#111"  stroke="#111" stroke-width="0.18">40</text>
<text x="395.27" y="551.32" font-size="7" text-anchor="middle" fill="#111"  stroke="#111" stroke-width="0.18">60</text>
<text x="421.20" y="551.32" font-size="7" text-anchor="middle" fill="#111"  stroke="#111" stroke-width="0.18">80</text>
<text x="369.80" y="533.68" font-size="6.6" text-anchor="middle" fill="#111"  stroke="#111" stroke-width="0.18">overlap between genes bound</text>
<text x="369.80" y="541.38" font-size="6.6" text-anchor="middle" fill="#111"  stroke="#111" stroke-width="0.18">by Ikaros and other TFs (%)</text>
<text x="444.00" y="551.05" font-size="6.8" text-anchor="middle" fill="#111"  stroke="#111" stroke-width="0.18">p-value</text>
<text x="473.30" y="551.05" font-size="6.8" text-anchor="middle" fill="#111"  stroke="#111" stroke-width="0.18">reference</text>
<rect x="317.90" y="558.25" width="67.66" height="3.50" fill="#34379a" />
<line x1="315.90" y1="563.90" x2="317.50" y2="563.90" stroke="#b08070" stroke-width="0.5" />
<text x="313.30" y="562.45" font-size="6.8" text-anchor="end" fill="#111"  stroke="#111" stroke-width="0.18">E2A</text>
<text x="473.30" y="562.59" font-size="7.2" text-anchor="middle" fill="#111"  stroke="#111" stroke-width="0.18">33</text>
<text x="444.00" y="562.52" font-size="6.7" text-anchor="middle" fill="#111" stroke="#111" stroke-width="0.18">&lt; 10<tspan font-size="4.3" dy="-2.6" dx="0.3" fill="#444">-300</tspan></text>
<rect x="317.90" y="566.08" width="72.85" height="3.50" fill="#34379a" />
<line x1="315.90" y1="571.73" x2="317.50" y2="571.73" stroke="#b08070" stroke-width="0.5" />
<text x="313.30" y="570.28" font-size="6.8" text-anchor="end" fill="#111"  stroke="#111" stroke-width="0.18">Foxo1</text>
<text x="473.30" y="570.42" font-size="7.2" text-anchor="middle" fill="#111"  stroke="#111" stroke-width="0.18">33</text>
<text x="444.00" y="570.35" font-size="6.7" text-anchor="middle" fill="#111" stroke="#111" stroke-width="0.18">1.1x10<tspan font-size="4.3" dy="-2.6" dx="0.3" fill="#444">-99</tspan></text>
<rect x="317.90" y="573.91" width="59.89" height="3.50" fill="#34379a" />
<line x1="315.90" y1="579.56" x2="317.50" y2="579.56" stroke="#b08070" stroke-width="0.5" />
<text x="313.30" y="578.11" font-size="6.8" text-anchor="end" fill="#111"  stroke="#111" stroke-width="0.18">Pax5</text>
<text x="473.30" y="578.25" font-size="7.2" text-anchor="middle" fill="#111"  stroke="#111" stroke-width="0.18">34</text>
<text x="444.00" y="578.18" font-size="6.7" text-anchor="middle" fill="#111" stroke="#111" stroke-width="0.18">&lt; 10<tspan font-size="4.3" dy="-2.6" dx="0.3" fill="#444">-300</tspan></text>
<rect x="317.90" y="581.74" width="89.18" height="3.50" fill="#34379a" />
<line x1="315.90" y1="587.39" x2="317.50" y2="587.39" stroke="#b08070" stroke-width="0.5" />
<text x="313.30" y="585.94" font-size="6.8" text-anchor="end" fill="#111"  stroke="#111" stroke-width="0.18">EBF1</text>
<text x="473.30" y="586.08" font-size="7.2" text-anchor="middle" fill="#111"  stroke="#111" stroke-width="0.18">33</text>
<text x="444.00" y="586.01" font-size="6.7" text-anchor="middle" fill="#111" stroke="#111" stroke-width="0.18">1.6x10<tspan font-size="4.3" dy="-2.6" dx="0.3" fill="#444">-117</tspan></text>
<rect x="317.90" y="589.57" width="67.66" height="3.50" fill="#34379a" />
<line x1="315.90" y1="595.22" x2="317.50" y2="595.22" stroke="#b08070" stroke-width="0.5" />
<text x="313.30" y="593.77" font-size="6.8" text-anchor="end" fill="#111"  stroke="#111" stroke-width="0.18">EBF1</text>
<text x="473.30" y="593.91" font-size="7.2" text-anchor="middle" fill="#111"  stroke="#111" stroke-width="0.18">35</text>
<text x="444.00" y="593.84" font-size="6.7" text-anchor="middle" fill="#111" stroke="#111" stroke-width="0.18">&lt; 10<tspan font-size="4.3" dy="-2.6" dx="0.3" fill="#444">-300</tspan></text>
<rect x="317.90" y="597.40" width="53.92" height="3.50" fill="#34379a" />
<line x1="315.90" y1="603.05" x2="317.50" y2="603.05" stroke="#b08070" stroke-width="0.5" />
<text x="313.30" y="601.60" font-size="6.8" text-anchor="end" fill="#111"  stroke="#111" stroke-width="0.18">Erg1</text>
<text x="473.30" y="601.74" font-size="7.2" text-anchor="middle" fill="#111"  stroke="#111" stroke-width="0.18">37</text>
<text x="444.00" y="601.67" font-size="6.7" text-anchor="middle" fill="#111" stroke="#111" stroke-width="0.18">&lt; 10<tspan font-size="4.3" dy="-2.6" dx="0.3" fill="#444">-300</tspan></text>
<rect x="317.90" y="605.23" width="56.52" height="3.50" fill="#34379a" />
<line x1="315.90" y1="610.88" x2="317.50" y2="610.88" stroke="#b08070" stroke-width="0.5" />
<text x="313.30" y="609.43" font-size="6.8" text-anchor="end" fill="#111"  stroke="#111" stroke-width="0.18">Fli1</text>
<text x="473.30" y="609.57" font-size="7.2" text-anchor="middle" fill="#111"  stroke="#111" stroke-width="0.18">37</text>
<text x="444.00" y="609.50" font-size="6.7" text-anchor="middle" fill="#111" stroke="#111" stroke-width="0.18">&lt; 10<tspan font-size="4.3" dy="-2.6" dx="0.3" fill="#444">-300</tspan></text>
<rect x="317.90" y="613.06" width="40.18" height="3.50" fill="#34379a" />
<line x1="315.90" y1="618.71" x2="317.50" y2="618.71" stroke="#b08070" stroke-width="0.5" />
<text x="313.30" y="617.26" font-size="6.8" text-anchor="end" fill="#111"  stroke="#111" stroke-width="0.18">Gata2</text>
<text x="473.30" y="617.40" font-size="7.2" text-anchor="middle" fill="#111"  stroke="#111" stroke-width="0.18">37</text>
<text x="444.00" y="617.33" font-size="6.7" text-anchor="middle" fill="#111" stroke="#111" stroke-width="0.18">4.6x10<tspan font-size="4.3" dy="-2.6" dx="0.3" fill="#444">-41</tspan></text>
<rect x="317.90" y="620.89" width="62.61" height="3.50" fill="#34379a" />
<line x1="315.90" y1="626.54" x2="317.50" y2="626.54" stroke="#b08070" stroke-width="0.5" />
<text x="313.30" y="625.09" font-size="6.8" text-anchor="end" fill="#111"  stroke="#111" stroke-width="0.18">Gfi1</text>
<text x="473.30" y="625.23" font-size="7.2" text-anchor="middle" fill="#111"  stroke="#111" stroke-width="0.18">37</text>
<text x="444.00" y="625.16" font-size="6.7" text-anchor="middle" fill="#111" stroke="#111" stroke-width="0.18">&lt; 10<tspan font-size="4.3" dy="-2.6" dx="0.3" fill="#444">-300</tspan></text>
<rect x="317.90" y="628.72" width="43.68" height="3.50" fill="#34379a" />
<line x1="315.90" y1="634.37" x2="317.50" y2="634.37" stroke="#b08070" stroke-width="0.5" />
<text x="313.30" y="632.92" font-size="6.8" text-anchor="end" fill="#111"  stroke="#111" stroke-width="0.18">Lmo2</text>
<text x="473.30" y="633.06" font-size="7.2" text-anchor="middle" fill="#111"  stroke="#111" stroke-width="0.18">37</text>
<text x="444.00" y="632.99" font-size="6.7" text-anchor="middle" fill="#111" stroke="#111" stroke-width="0.18">1.1x10<tspan font-size="4.3" dy="-2.6" dx="0.3" fill="#444">-58</tspan></text>
<rect x="317.90" y="636.55" width="41.74" height="3.50" fill="#34379a" />
<line x1="315.90" y1="642.20" x2="317.50" y2="642.20" stroke="#b08070" stroke-width="0.5" />
<text x="313.30" y="640.75" font-size="6.8" text-anchor="end" fill="#111"  stroke="#111" stroke-width="0.18">Lyl1</text>
<text x="473.30" y="640.89" font-size="7.2" text-anchor="middle" fill="#111"  stroke="#111" stroke-width="0.18">37</text>
<text x="444.00" y="640.82" font-size="6.7" text-anchor="middle" fill="#111" stroke="#111" stroke-width="0.18">2.8x10<tspan font-size="4.3" dy="-2.6" dx="0.3" fill="#444">-19</tspan></text>
<rect x="317.90" y="644.38" width="54.96" height="3.50" fill="#34379a" />
<line x1="315.90" y1="650.03" x2="317.50" y2="650.03" stroke="#b08070" stroke-width="0.5" />
<text x="313.30" y="648.58" font-size="6.8" text-anchor="end" fill="#111"  stroke="#111" stroke-width="0.18">Meis1</text>
<text x="473.30" y="648.72" font-size="7.2" text-anchor="middle" fill="#111"  stroke="#111" stroke-width="0.18">37</text>
<text x="444.00" y="648.65" font-size="6.7" text-anchor="middle" fill="#111" stroke="#111" stroke-width="0.18">1.3x10<tspan font-size="4.3" dy="-2.6" dx="0.3" fill="#444">-170</tspan></text>
<rect x="317.90" y="652.21" width="58.07" height="3.50" fill="#34379a" />
<line x1="315.90" y1="657.86" x2="317.50" y2="657.86" stroke="#b08070" stroke-width="0.5" />
<text x="313.30" y="656.41" font-size="6.8" text-anchor="end" fill="#111"  stroke="#111" stroke-width="0.18">Runx1</text>
<text x="473.30" y="656.55" font-size="7.2" text-anchor="middle" fill="#111"  stroke="#111" stroke-width="0.18">37</text>
<text x="444.00" y="656.48" font-size="6.7" text-anchor="middle" fill="#111" stroke="#111" stroke-width="0.18">5.2x10<tspan font-size="4.3" dy="-2.6" dx="0.3" fill="#444">-101</tspan></text>
<rect x="317.90" y="660.04" width="65.59" height="3.50" fill="#34379a" />
<line x1="315.90" y1="665.69" x2="317.50" y2="665.69" stroke="#b08070" stroke-width="0.5" />
<text x="313.30" y="664.24" font-size="6.8" text-anchor="end" fill="#111"  stroke="#111" stroke-width="0.18">Scl</text>
<text x="473.30" y="664.38" font-size="7.2" text-anchor="middle" fill="#111"  stroke="#111" stroke-width="0.18">37</text>
<text x="444.00" y="664.31" font-size="6.7" text-anchor="middle" fill="#111" stroke="#111" stroke-width="0.18">&lt; 10<tspan font-size="4.3" dy="-2.6" dx="0.3" fill="#444">-300</tspan></text>
<rect x="317.90" y="667.87" width="56.39" height="3.50" fill="#34379a" />
<line x1="315.90" y1="673.52" x2="317.50" y2="673.52" stroke="#b08070" stroke-width="0.5" />
<text x="313.30" y="672.07" font-size="6.8" text-anchor="end" fill="#111"  stroke="#111" stroke-width="0.18">PU.1</text>
<text x="473.30" y="672.21" font-size="7.2" text-anchor="middle" fill="#111"  stroke="#111" stroke-width="0.18">37</text>
<text x="444.00" y="672.14" font-size="6.7" text-anchor="middle" fill="#111" stroke="#111" stroke-width="0.18">&lt; 10<tspan font-size="4.3" dy="-2.6" dx="0.3" fill="#444">-300</tspan></text>
<rect x="317.90" y="675.70" width="55.22" height="3.50" fill="#34379a" />
<line x1="315.90" y1="681.35" x2="317.50" y2="681.35" stroke="#b08070" stroke-width="0.5" />
<text x="313.30" y="679.90" font-size="6.8" text-anchor="end" fill="#111"  stroke="#111" stroke-width="0.18">PU.1</text>
<text x="473.30" y="680.04" font-size="7.2" text-anchor="middle" fill="#111"  stroke="#111" stroke-width="0.18">36</text>
<text x="444.00" y="679.97" font-size="6.7" text-anchor="middle" fill="#111" stroke="#111" stroke-width="0.18">&lt; 10<tspan font-size="4.3" dy="-2.6" dx="0.3" fill="#444">-300</tspan></text>
</svg>
</body></html>
